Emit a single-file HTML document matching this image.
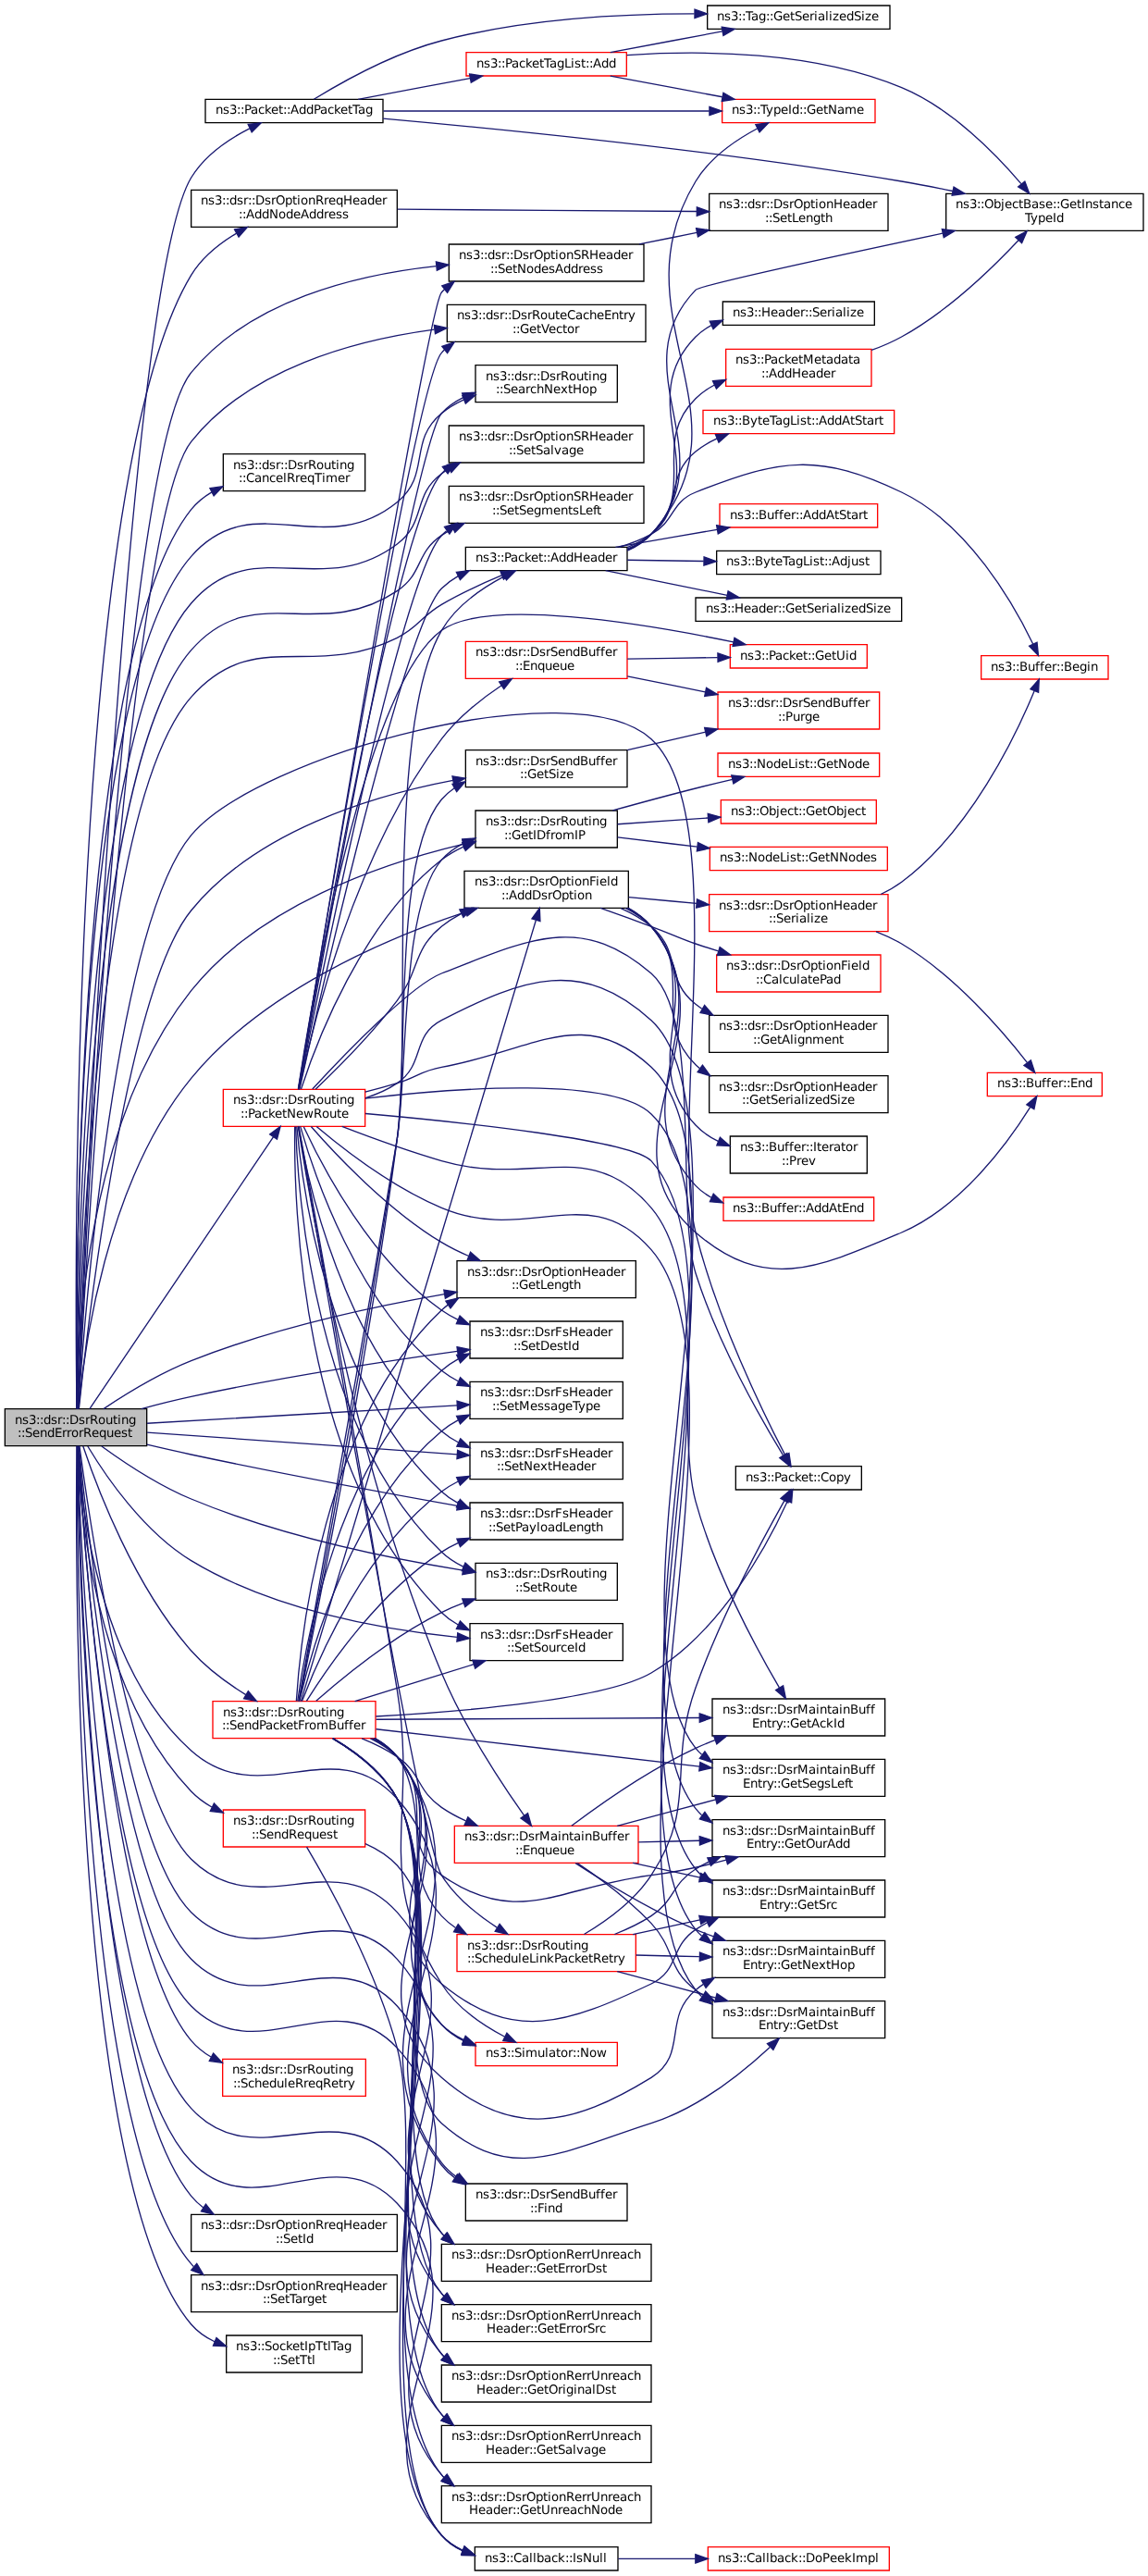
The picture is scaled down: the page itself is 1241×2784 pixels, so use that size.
<!DOCTYPE html>
<html lang="en">
<head>
<meta charset="utf-8">
<title>ns3::dsr::DsrRouting::SendErrorRequest call graph</title>
<style>
html,body{margin:0;padding:0;background:#fff;}
body{width:1241px;height:2784px;overflow:hidden;}
#graph{width:1241px;height:2784px;overflow:hidden;}
svg{display:block;will-change:transform;}
svg text{font-family:"DejaVu Sans","Liberation Sans",sans-serif;font-size:10px;fill:#000;}
svg text{text-rendering:geometricPrecision;}
</style>
</head>
<body>
<div id="graph">
<svg width="1241.3333" height="2784" viewBox="0 0 931 2088">
<g id="graph0" class="graph" transform="scale(1 1) rotate(0) translate(4 2084)">
<polygon fill="white" stroke="none" points="-4,4 -4,-2084 927,-2084 927,4 -4,4"/>
<g id="node1" class="node">
<polygon fill="#bfbfbf" stroke="black" points="0,-912 0,-942 115,-942 115,-912 0,-912"/>
<text x="8 14 19.25 25.25 28.25 31.25 37.25 42.5 46.25 49.25 52.25 59.75 65 68.75 75.5 81.5 87.5 91.25 94.25 100.25" y="-930">ns3::dsr::DsrRouting</text>
<text x="10.25 13.25 16.25 22.25 28.25 34.25 40.25 46.25 50 53.75 59.75 63.5 70.25 76.25 82.25 88.25 94.25 99.5" y="-919">::SendErrorRequest</text>
</g>
<g id="node2" class="node">
<polygon fill="white" stroke="black" points="372.5,-1348 372.5,-1378 505.5,-1378 505.5,-1348 372.5,-1348"/>
<text x="380.75 386.75 392 398 401 404 410 415.25 419 422 425 432.5 437.75 441.5 449 455 458.75 461.75 467.75 473.75 479 482 488 491" y="-1366">ns3::dsr::DsrOptionField</text>
<text x="402.5 405.5 408.5 415.25 421.25 427.25 434.75 440 443.75 451.25 457.25 461 464 470" y="-1355">::AddDsrOption</text>
</g>
<g id="edge1" class="edge">
<path fill="none" stroke="midnightblue" d="M59.62,-942.02C63.74,-987.46 81.62,-1125.51 151,-1210 208.94,-1280.56 308.19,-1323.03 373.45,-1344.74"/>
<polygon fill="midnightblue" stroke="midnightblue" points="372.63,-1348.15 383.22,-1347.92 374.79,-1341.49 372.63,-1348.15"/>
</g>
<g id="node11" class="node">
<polygon fill="white" stroke="black" points="373.5,-1621.5 373.5,-1640.5 504.5,-1640.5 504.5,-1621.5 373.5,-1621.5"/>
<text x="381.5 387.5 392.75 398.75 401.75 404.75 410 416 421.25 426.5 432.5 436.25 439.25 442.25 449 455 461 468.5 474.5 480.5 486.5 492.5" y="-1628.5">ns3::Packet::AddHeader</text>
</g>
<g id="edge11" class="edge">
<path fill="none" stroke="midnightblue" d="M58.73,-942.11C60.33,-1025.57 72.11,-1429.59 151,-1519 202.09,-1576.91 248.86,-1532.6 318,-1567 335.91,-1575.91 336.74,-1583.9 354,-1594 369.35,-1602.98 387.27,-1611.15 402.61,-1617.53"/>
<polygon fill="midnightblue" stroke="midnightblue" points="401.68,-1620.93 412.26,-1621.44 404.31,-1614.44 401.68,-1620.93"/>
</g>
<g id="node20" class="node">
<polygon fill="white" stroke="black" points="151,-1900 151,-1930 318,-1930 318,-1900 151,-1900"/>
<text x="158.75 164.75 170 176 179 182 188 193.25 197 200 203 210.5 215.75 219.5 227 233 236.75 239.75 245.75 251.75 258.5 262.25 268.25 274.25 281.75 287.75 293.75 299.75 305.75" y="-1918">ns3::dsr::DsrOptionRreqHeader</text>
<text x="189.5 192.5 195.5 202.25 208.25 214.25 221.75 227.75 233.75 239.75 246.5 252.5 258.5 262.25 268.25 273.5" y="-1907">::AddNodeAddress</text>
</g>
<g id="edge22" class="edge">
<path fill="none" stroke="midnightblue" d="M58.25,-942.2C56.75,-1049.85 51.96,-1697.62 151,-1861 159.67,-1875.3 173.74,-1886.56 187.83,-1895"/>
<polygon fill="midnightblue" stroke="midnightblue" points="186.12,-1898.06 196.55,-1899.9 189.55,-1891.95 186.12,-1898.06"/>
</g>
<g id="node22" class="node">
<polygon fill="white" stroke="black" points="162.5,-1984.5 162.5,-2003.5 306.5,-2003.5 306.5,-1984.5 162.5,-1984.5"/>
<text x="170.75 176.75 182 188 191 194 199.25 205.25 210.5 215.75 221.75 225.5 228.5 231.5 238.25 244.25 250.25 255.5 261.5 266.75 272 278 281.75 286.25 292.25" y="-1991.5">ns3::Packet::AddPacketTag</text>
</g>
<g id="edge24" class="edge">
<path fill="none" stroke="midnightblue" d="M59.09,-942.18C63.86,-1061.81 97.21,-1850.5 151,-1940 161.79,-1957.95 181.11,-1971.08 198.34,-1979.89"/>
<polygon fill="midnightblue" stroke="midnightblue" points="197.1,-1983.18 207.63,-1984.35 200.13,-1976.87 197.1,-1983.18"/>
</g>
<g id="node25" class="node">
<polygon fill="white" stroke="black" points="177,-1686 177,-1716 292,-1716 292,-1686 177,-1686"/>
<text x="185 191 196.25 202.25 205.25 208.25 214.25 219.5 223.25 226.25 229.25 236.75 242 245.75 252.5 258.5 264.5 268.25 271.25 277.25" y="-1704">ns3::dsr::DsrRouting</text>
<text x="189.5 192.5 195.5 202.25 208.25 214.25 219.5 225.5 228.5 235.25 239 245 251 257 260 269.75 275.75" y="-1693">::CancelRreqTimer</text>
</g>
<g id="edge32" class="edge">
<path fill="none" stroke="midnightblue" d="M58.31,-942.28C57.39,-1037.82 56.9,-1552.92 151,-1671 155.57,-1676.74 161.34,-1681.38 167.69,-1685.13"/>
<polygon fill="midnightblue" stroke="midnightblue" points="166.16,-1688.28 176.66,-1689.72 169.35,-1682.05 166.16,-1688.28"/>
</g>
<g id="node26" class="node">
<polygon fill="white" stroke="black" points="592.5,-876.5 592.5,-895.5 694.5,-895.5 694.5,-876.5 592.5,-876.5"/>
<text x="600.5 606.5 611.75 617.75 620.75 623.75 629 635 640.25 645.5 651.5 655.25 658.25 661.25 668 674 680" y="-883.5">ns3::Packet::Copy</text>
</g>
<g id="edge33" class="edge">
<path fill="none" stroke="midnightblue" d="M59.48,-942.2C64.48,-1015.68 89.43,-1333.48 151,-1407 205.37,-1471.92 461.49,-1542.13 524,-1485 589.88,-1424.79 538.67,-1171.66 560,-1085 577.09,-1015.59 614.65,-938.9 632.58,-904.49"/>
<polygon fill="midnightblue" stroke="midnightblue" points="635.71,-906.06 637.28,-895.58 629.52,-902.79 635.71,-906.06"/>
</g>
<g id="node27" class="node">
<polygon fill="white" stroke="black" points="373.5,-284 373.5,-314 504.5,-314 504.5,-284 373.5,-284"/>
<text x="381.5 387.5 392.75 398.75 401.75 404.75 410.75 416 419.75 422.75 425.75 433.25 438.5 442.25 448.25 454.25 460.25 466.25 473 479 482.75 486.5 492.5" y="-302">ns3::dsr::DsrSendBuffer</text>
<text x="425.75 428.75 431.75 437 440 446" y="-291">::Find</text>
</g>
<g id="edge34" class="edge">
<path fill="none" stroke="midnightblue" d="M59.04,-911.85C61.51,-866.86 75.18,-732.91 151,-665 207.78,-614.15 267.09,-682.73 318,-626 406.22,-527.7 272.59,-435.01 354,-331 357.49,-326.55 361.67,-322.71 366.28,-319.41"/>
<polygon fill="midnightblue" stroke="midnightblue" points="368.33,-322.26 374.99,-314.03 364.65,-316.31 368.33,-322.26"/>
</g>
<g id="node28" class="node">
<polygon fill="white" stroke="black" points="354,-235 354,-265 524,-265 524,-235 354,-235"/>
<text x="362 368 373.25 379.25 382.25 385.25 391.25 396.5 400.25 403.25 406.25 413.75 419 422.75 430.25 436.25 440 443 449 455 461.75 467.75 471.5 475.25 482.75 488.75 492.5 498.5 504.5 509.75" y="-253">ns3::dsr::DsrOptionRerrUnreach</text>
<text x="389.75 397.25 403.25 409.25 415.25 421.25 425 428 431 438.5 444.5 448.25 454.25 458 461.75 467.75 471.5 479 484.25" y="-242">Header::GetErrorDst</text>
</g>
<g id="edge35" class="edge">
<path fill="none" stroke="midnightblue" d="M60.45,-911.91C68.59,-851.22 101.74,-625.95 151,-577 205.37,-522.98 266.99,-591.21 318,-534 395.64,-446.93 277.51,-362.08 354,-274 354.75,-273.14 355.52,-272.31 356.32,-271.51"/>
<polygon fill="midnightblue" stroke="midnightblue" points="358.67,-274.11 364.17,-265.06 354.22,-268.71 358.67,-274.11"/>
</g>
<g id="node29" class="node">
<polygon fill="white" stroke="black" points="354,-186 354,-216 524,-216 524,-186 354,-186"/>
<text x="362 368 373.25 379.25 382.25 385.25 391.25 396.5 400.25 403.25 406.25 413.75 419 422.75 430.25 436.25 440 443 449 455 461.75 467.75 471.5 475.25 482.75 488.75 492.5 498.5 504.5 509.75" y="-204">ns3::dsr::DsrOptionRerrUnreach</text>
<text x="390.5 398 404 410 416 422 425.75 428.75 431.75 439.25 445.25 449 455 458.75 462.5 468.5 472.25 478.25 482" y="-193">Header::GetErrorSrc</text>
</g>
<g id="edge36" class="edge">
<path fill="none" stroke="midnightblue" d="M59.95,-911.84C66.51,-846.4 95.53,-589.06 151,-534 205.02,-480.38 266.7,-552.23 318,-496 399.89,-406.24 274.59,-316.96 354,-225 354.74,-224.14 355.52,-223.31 356.31,-222.51"/>
<polygon fill="midnightblue" stroke="midnightblue" points="358.66,-225.1 364.14,-216.04 354.2,-219.71 358.66,-225.1"/>
</g>
<g id="node30" class="node">
<polygon fill="white" stroke="black" points="381.5,-1397 381.5,-1427 496.5,-1427 496.5,-1397 381.5,-1397"/>
<text x="389.75 395.75 401 407 410 413 419 424.25 428 431 434 441.5 446.75 450.5 457.25 463.25 469.25 473 476 482" y="-1415">ns3::dsr::DsrRouting</text>
<text x="404.75 407.75 410.75 418.25 424.25 428 431 438.5 442.25 446 452 461.75 464.75" y="-1404">::GetIDfromIP</text>
</g>
<g id="edge37" class="edge">
<path fill="none" stroke="midnightblue" d="M58.31,-942.37C58.44,-995.44 65.52,-1173.67 151,-1281 205.93,-1349.97 305.27,-1384 371.44,-1399.76"/>
<polygon fill="midnightblue" stroke="midnightblue" points="370.83,-1403.21 381.36,-1402.05 372.4,-1396.39 370.83,-1403.21"/>
</g>
<g id="node34" class="node">
<polygon fill="white" stroke="black" points="366.5,-1032 366.5,-1062 511.5,-1062 511.5,-1032 366.5,-1032"/>
<text x="374.75 380.75 386 392 395 398 404 409.25 413 416 419 426.5 431.75 435.5 443 449 452.75 455.75 461.75 467.75 475.25 481.25 487.25 493.25 499.25" y="-1050">ns3::dsr::DsrOptionHeader</text>
<text x="410.75 413.75 416.75 424.25 430.25 434 439.25 445.25 451.25 457.25 461" y="-1039">::GetLength</text>
</g>
<g id="edge41" class="edge">
<path fill="none" stroke="midnightblue" d="M79.97,-942.07C98.13,-954.18 125.24,-970.79 151,-981 217.84,-1007.48 297.84,-1024.78 356.38,-1035"/>
<polygon fill="midnightblue" stroke="midnightblue" points="355.87,-1038.47 366.32,-1036.7 357.05,-1031.57 355.87,-1038.47"/>
</g>
<g id="node35" class="node">
<polygon fill="white" stroke="black" points="354,-137 354,-167 524,-167 524,-137 354,-137"/>
<text x="362 368 373.25 379.25 382.25 385.25 391.25 396.5 400.25 403.25 406.25 413.75 419 422.75 430.25 436.25 440 443 449 455 461.75 467.75 471.5 475.25 482.75 488.75 492.5 498.5 504.5 509.75" y="-155">ns3::dsr::DsrOptionRerrUnreach</text>
<text x="382.25 389.75 395.75 401.75 407.75 413.75 417.5 420.5 423.5 431 437 440.75 448.25 452 455 461 464 470 476 479 486.5 491.75" y="-144">Header::GetOriginalDst</text>
</g>
<g id="edge42" class="edge">
<path fill="none" stroke="midnightblue" d="M59.61,-911.81C65.01,-842.5 90.63,-557.12 151,-496 204.49,-441.84 266.84,-514.36 318,-458 402.92,-364.44 271.67,-271.84 354,-176 354.74,-175.14 355.51,-174.3 356.31,-173.5"/>
<polygon fill="midnightblue" stroke="midnightblue" points="358.66,-176.1 364.12,-167.02 354.19,-170.71 358.66,-176.1"/>
</g>
<g id="node36" class="node">
<polygon fill="white" stroke="black" points="354,-88 354,-118 524,-118 524,-88 354,-88"/>
<text x="362 368 373.25 379.25 382.25 385.25 391.25 396.5 400.25 403.25 406.25 413.75 419 422.75 430.25 436.25 440 443 449 455 461.75 467.75 471.5 475.25 482.75 488.75 492.5 498.5 504.5 509.75" y="-106">ns3::dsr::DsrOptionRerrUnreach</text>
<text x="389.75 397.25 403.25 409.25 415.25 421.25 425 428 431 438.5 444.5 448.25 454.25 460.25 463.25 469.25 475.25 481.25" y="-95">Header::GetSalvage</text>
</g>
<g id="edge43" class="edge">
<path fill="none" stroke="midnightblue" d="M59.29,-911.93C63.41,-839.11 84.89,-524.52 151,-458 204.4,-404.28 266.63,-479.66 318,-424 408.18,-326.28 267.68,-228.13 354,-127 354.62,-126.27 355.27,-125.56 355.93,-124.87"/>
<polygon fill="midnightblue" stroke="midnightblue" points="358.37,-127.39 363.73,-118.25 353.84,-122.06 358.37,-127.39"/>
</g>
<g id="node37" class="node">
<polygon fill="white" stroke="black" points="373.5,-1446 373.5,-1476 504.5,-1476 504.5,-1446 373.5,-1446"/>
<text x="381.5 387.5 392.75 398.75 401.75 404.75 410.75 416 419.75 422.75 425.75 433.25 438.5 442.25 448.25 454.25 460.25 466.25 473 479 482.75 486.5 492.5" y="-1464">ns3::dsr::DsrSendBuffer</text>
<text x="417.5 420.5 423.5 431 437 440.75 446.75 449.75 455" y="-1453">::GetSize</text>
</g>
<g id="edge44" class="edge">
<path fill="none" stroke="midnightblue" d="M60.05,-942.43C67.12,-1010.27 98.31,-1281.55 151,-1346 203.52,-1410.23 297.24,-1438.82 363.27,-1451.4"/>
<polygon fill="midnightblue" stroke="midnightblue" points="362.74,-1454.86 373.21,-1453.21 364,-1447.97 362.74,-1454.86"/>
</g>
<g id="node39" class="node">
<polygon fill="white" stroke="black" points="354,-39 354,-69 524,-69 524,-39 354,-39"/>
<text x="362 368 373.25 379.25 382.25 385.25 391.25 396.5 400.25 403.25 406.25 413.75 419 422.75 430.25 436.25 440 443 449 455 461.75 467.75 471.5 475.25 482.75 488.75 492.5 498.5 504.5 509.75" y="-57">ns3::dsr::DsrOptionRerrUnreach</text>
<text x="376.25 383.75 389.75 395.75 401.75 407.75 411.5 414.5 417.5 425 431 434.75 442.25 448.25 452 458 464 469.25 475.25 482.75 488.75 494.75" y="-46">Header::GetUnreachNode</text>
</g>
<g id="edge46" class="edge">
<path fill="none" stroke="midnightblue" d="M58.88,-911.83C61.21,-831.53 76.03,-456.71 151,-375 202.82,-318.53 266.9,-389.12 318,-332 394.02,-247.02 279.11,-163.97 354,-78 354.75,-77.14 355.52,-76.31 356.32,-75.51"/>
<polygon fill="midnightblue" stroke="midnightblue" points="358.67,-78.12 364.18,-69.07 354.23,-72.71 358.67,-78.12"/>
</g>
<g id="node40" class="node">
<polygon fill="white" stroke="black" points="358.5,-1807 358.5,-1837 519.5,-1837 519.5,-1807 358.5,-1807"/>
<text x="366.5 372.5 377.75 383.75 386.75 389.75 395.75 401 404.75 407.75 410.75 418.25 423.5 427.25 434 440 446 449.75 455.75 462.5 468.5 473.75 479.75 485.75 491.75 497.75 501.5 505.25" y="-1825">ns3::dsr::DsrRouteCacheEntry</text>
<text x="411.5 414.5 417.5 425 431 434.75 440.75 446.75 452 455.75 461.75" y="-1814">::GetVector</text>
</g>
<g id="edge47" class="edge">
<path fill="none" stroke="midnightblue" d="M59.3,-942.27C64.97,-1047.44 100.1,-1662.1 151,-1726 198.07,-1785.1 282.83,-1808.1 348.07,-1816.9"/>
<polygon fill="midnightblue" stroke="midnightblue" points="348.01,-1820.42 358.36,-1818.19 348.88,-1813.47 348.01,-1820.42"/>
</g>
<g id="node41" class="node">
<polygon fill="white" stroke="black" points="381,-0.5 381,-19.5 497,-19.5 497,-0.5 381,-0.5"/>
<text x="389 395 400.25 406.25 409.25 412.25 419 425 428 431 437 443 448.25 454.25 457.25 460.25 463.25 468.5 476 482 485" y="-7.5">ns3::Callback::IsNull</text>
</g>
<g id="edge48" class="edge">
<path fill="none" stroke="midnightblue" d="M58.61,-911.98C59.51,-828.16 68.18,-418.78 151,-332 203.3,-277.21 266.29,-353.34 318,-298 400.35,-209.87 272.6,-118.02 354,-29 358.75,-23.81 364.58,-19.89 370.95,-16.94"/>
<polygon fill="midnightblue" stroke="midnightblue" points="372.48,-20.1 380.59,-13.28 370,-13.55 372.48,-20.1"/>
</g>
<g id="node43" class="node">
<polygon fill="white" stroke="red" points="177,-1171 177,-1201 292,-1201 292,-1171 177,-1171"/>
<text x="185 191 196.25 202.25 205.25 208.25 214.25 219.5 223.25 226.25 229.25 236.75 242 245.75 252.5 258.5 264.5 268.25 271.25 277.25" y="-1189">ns3::dsr::DsrRouting</text>
<text x="191 194 197 202.25 208.25 213.5 218.75 224.75 228.5 236 242 250.25 257 263 269 272.75" y="-1178">::PacketNewRoute</text>
</g>
<g id="edge50" class="edge">
<path fill="none" stroke="midnightblue" d="M68.67,-942.04C97.9,-985.32 182.38,-1110.34 217.69,-1162.6"/>
<polygon fill="midnightblue" stroke="midnightblue" points="214.81,-1164.59 223.31,-1170.91 220.61,-1160.67 214.81,-1164.59"/>
</g>
<g id="node55" class="node">
<polygon fill="white" stroke="black" points="381.5,-1758 381.5,-1788 496.5,-1788 496.5,-1758 381.5,-1758"/>
<text x="389.75 395.75 401 407 410 413 419 424.25 428 431 434 441.5 446.75 450.5 457.25 463.25 469.25 473 476 482" y="-1776">ns3::dsr::DsrRouting</text>
<text x="398 401 404 410 416 422 425.75 431 437 444.5 450.5 456.5 460.25 467.75 473.75" y="-1765">::SearchNextHop</text>
</g>
<g id="edge93" class="edge">
<path fill="none" stroke="midnightblue" d="M58.28,-942.21C57.26,-1035.11 56.47,-1525.59 151,-1633 201.71,-1690.62 258.43,-1628.59 318,-1677 345.77,-1699.56 326.47,-1726.15 354,-1749 359.33,-1753.43 365.44,-1757.04 371.87,-1759.98"/>
<polygon fill="midnightblue" stroke="midnightblue" points="370.89,-1763.36 381.47,-1763.84 373.5,-1756.86 370.89,-1763.36"/>
</g>
<g id="node56" class="node">
<polygon fill="white" stroke="black" points="377,-983 377,-1013 501,-1013 501,-983 377,-983"/>
<text x="385.25 391.25 396.5 402.5 405.5 408.5 414.5 419.75 423.5 426.5 429.5 437 442.25 446 452 457.25 464.75 470.75 476.75 482.75 488.75" y="-1001">ns3::dsr::DsrFsHeader</text>
<text x="412.25 415.25 418.25 424.25 430.25 434 441.5 447.5 452.75 456.5 459.5" y="-990">::SetDestId</text>
</g>
<g id="edge126" class="edge">
<path fill="none" stroke="midnightblue" d="M110.61,-942.11C123.73,-945.63 137.83,-949.17 151,-952 223.96,-967.66 308.39,-980.58 366.7,-988.69"/>
<polygon fill="midnightblue" stroke="midnightblue" points="366.52,-992.2 376.91,-990.1 367.48,-985.27 366.52,-992.2"/>
</g>
<g id="node57" class="node">
<polygon fill="white" stroke="black" points="377,-934 377,-964 501,-964 501,-934 377,-934"/>
<text x="385.25 391.25 396.5 402.5 405.5 408.5 414.5 419.75 423.5 426.5 429.5 437 442.25 446 452 457.25 464.75 470.75 476.75 482.75 488.75" y="-952">ns3::dsr::DsrFsHeader</text>
<text x="395 398 401 407 413 416.75 425.75 431.75 437 442.25 448.25 454.25 460.25 464.75 470.75 476.75" y="-941">::SetMessageType</text>
</g>
<g id="edge128" class="edge">
<path fill="none" stroke="midnightblue" d="M115.31,-930.29C182.36,-934.18 293.91,-940.65 366.7,-944.87"/>
<polygon fill="midnightblue" stroke="midnightblue" points="366.52,-948.36 376.7,-945.45 366.92,-941.37 366.52,-948.36"/>
</g>
<g id="node58" class="node">
<polygon fill="white" stroke="black" points="377,-885 377,-915 501,-915 501,-885 377,-885"/>
<text x="385.25 391.25 396.5 402.5 405.5 408.5 414.5 419.75 423.5 426.5 429.5 437 442.25 446 452 457.25 464.75 470.75 476.75 482.75 488.75" y="-903">ns3::dsr::DsrFsHeader</text>
<text x="398.75 401.75 404.75 410.75 416.75 420.5 428 434 440 443.75 451.25 457.25 463.25 469.25 475.25" y="-892">::SetNextHeader</text>
</g>
<g id="edge129" class="edge">
<path fill="none" stroke="midnightblue" d="M115.31,-922.96C182.36,-918.19 293.91,-910.25 366.7,-905.07"/>
<polygon fill="midnightblue" stroke="midnightblue" points="366.98,-908.56 376.7,-904.36 366.48,-901.58 366.98,-908.56"/>
</g>
<g id="node59" class="node">
<polygon fill="white" stroke="black" points="360,-1856 360,-1886 518,-1886 518,-1856 360,-1856"/>
<text x="368 374 379.25 385.25 388.25 391.25 397.25 402.5 406.25 409.25 412.25 419.75 425 428.75 436.25 442.25 446 449 455 461 467 473.75 481.25 487.25 493.25 499.25 505.25" y="-1874">ns3::dsr::DsrOptionSRHeader</text>
<text x="393.5 396.5 399.5 405.5 411.5 415.25 422.75 428.75 434.75 440.75 446 452.75 458.75 464.75 468.5 474.5 479.75" y="-1863">::SetNodesAddress</text>
</g>
<g id="edge130" class="edge">
<path fill="none" stroke="midnightblue" d="M59.16,-942.29C64.02,-1051.78 95.61,-1714.11 151,-1782 198.74,-1840.51 284.25,-1861.31 349.56,-1868.33"/>
<polygon fill="midnightblue" stroke="midnightblue" points="349.56,-1871.85 359.86,-1869.35 350.25,-1864.89 349.56,-1871.85"/>
</g>
<g id="node60" class="node">
<polygon fill="white" stroke="black" points="377,-836 377,-866 501,-866 501,-836 377,-836"/>
<text x="385.25 391.25 396.5 402.5 405.5 408.5 414.5 419.75 423.5 426.5 429.5 437 442.25 446 452 457.25 464.75 470.75 476.75 482.75 488.75" y="-854">ns3::dsr::DsrFsHeader</text>
<text x="392 395 398 404 410 413.75 419 425 431 434 440 446 452 457.25 463.25 469.25 475.25 479" y="-843">::SetPayloadLength</text>
</g>
<g id="edge131" class="edge">
<path fill="none" stroke="midnightblue" d="M115.15,-913.08C126.97,-910.3 139.38,-907.47 151,-905 224.21,-889.42 308.43,-873.85 366.62,-863.46"/>
<polygon fill="midnightblue" stroke="midnightblue" points="367.57,-866.84 376.81,-861.64 366.35,-859.95 367.57,-866.84"/>
</g>
<g id="node61" class="node">
<polygon fill="white" stroke="black" points="381.5,-787 381.5,-817 496.5,-817 496.5,-787 381.5,-787"/>
<text x="389.75 395.75 401 407 410 413 419 424.25 428 431 434 441.5 446.75 450.5 457.25 463.25 469.25 473 476 482" y="-805">ns3::dsr::DsrRouting</text>
<text x="413.75 416.75 419.75 425.75 431.75 435.5 442.25 448.25 454.25 458" y="-794">::SetRoute</text>
</g>
<g id="edge132" class="edge">
<path fill="none" stroke="midnightblue" d="M78.37,-911.8C96.42,-898.69 124.23,-880.15 151,-869 223.33,-838.87 311.83,-820.81 371.27,-811.16"/>
<polygon fill="midnightblue" stroke="midnightblue" points="371.95,-814.6 381.28,-809.57 370.86,-807.69 371.95,-814.6"/>
</g>
<g id="node62" class="node">
<polygon fill="white" stroke="black" points="360,-1709 360,-1739 518,-1739 518,-1709 360,-1709"/>
<text x="368 374 379.25 385.25 388.25 391.25 397.25 402.5 406.25 409.25 412.25 419.75 425 428.75 436.25 442.25 446 449 455 461 467 473.75 481.25 487.25 493.25 499.25 505.25" y="-1727">ns3::dsr::DsrOptionSRHeader</text>
<text x="408.5 411.5 414.5 420.5 426.5 430.25 436.25 442.25 445.25 451.25 457.25 463.25" y="-1716">::SetSalvage</text>
</g>
<g id="edge133" class="edge">
<path fill="none" stroke="midnightblue" d="M58.44,-942.24C58.39,-1032.14 62.52,-1492.94 151,-1595 201.59,-1653.35 256.23,-1596.65 318,-1643 341.97,-1660.98 330.02,-1682.04 354,-1700 355.87,-1701.4 357.83,-1702.73 359.84,-1703.97"/>
<polygon fill="midnightblue" stroke="midnightblue" points="358.58,-1707.26 369.04,-1708.95 361.91,-1701.11 358.58,-1707.26"/>
</g>
<g id="node63" class="node">
<polygon fill="white" stroke="black" points="360,-1660 360,-1690 518,-1690 518,-1660 360,-1660"/>
<text x="368 374 379.25 385.25 388.25 391.25 397.25 402.5 406.25 409.25 412.25 419.75 425 428.75 436.25 442.25 446 449 455 461 467 473.75 481.25 487.25 493.25 499.25 505.25" y="-1678">ns3::dsr::DsrOptionSRHeader</text>
<text x="395 398 401 407 413 416.75 422.75 428.75 434.75 444.5 450.5 456.5 460.25 465.5 470.75 476.75 479.75" y="-1667">::SetSegmentsLeft</text>
</g>
<g id="edge134" class="edge">
<path fill="none" stroke="midnightblue" d="M58.58,-942.21C59.34,-1029.03 67.33,-1461.28 151,-1557 201.83,-1615.14 253.74,-1562.16 318,-1605 339.31,-1619.21 332.76,-1635.69 354,-1650 356.93,-1651.97 360.02,-1653.79 363.21,-1655.47"/>
<polygon fill="midnightblue" stroke="midnightblue" points="361.91,-1658.73 372.45,-1659.84 364.9,-1652.4 361.91,-1658.73"/>
</g>
<g id="node64" class="node">
<polygon fill="white" stroke="black" points="377,-738 377,-768 501,-768 501,-738 377,-738"/>
<text x="385.25 391.25 396.5 402.5 405.5 408.5 414.5 419.75 423.5 426.5 429.5 437 442.25 446 452 457.25 464.75 470.75 476.75 482.75 488.75" y="-756">ns3::dsr::DsrFsHeader</text>
<text x="407 410 413 419 425 428.75 434.75 440.75 446.75 450.5 455.75 461.75 464.75" y="-745">::SetSourceId</text>
</g>
<g id="edge135" class="edge">
<path fill="none" stroke="midnightblue" d="M67.11,-911.76C81.36,-888.02 112.14,-842.52 151,-819 217.15,-778.96 305.32,-763.19 366.4,-757"/>
<polygon fill="midnightblue" stroke="midnightblue" points="367.09,-760.44 376.72,-756.01 366.43,-753.48 367.09,-760.44"/>
</g>
<g id="node65" class="node">
<polygon fill="white" stroke="red" points="176.5,-385 176.5,-415 292.5,-415 292.5,-385 176.5,-385"/>
<text x="184.25 190.25 195.5 201.5 204.5 207.5 213.5 218.75 222.5 225.5 228.5 236 241.25 245 251.75 257.75 263.75 267.5 270.5 276.5" y="-403">ns3::dsr::DsrRouting</text>
<text x="185 188 191 197 202.25 208.25 214.25 220.25 226.25 229.25 235.25 242 245.75 251.75 257.75 264.5 270.5 274.25 278" y="-392">::ScheduleRreqRetry</text>
</g>
<g id="edge92" class="edge">
<path fill="none" stroke="midnightblue" d="M59.34,-911.74C63.78,-836.53 86.74,-505.83 151,-430 155.5,-424.69 161.02,-420.32 167.06,-416.72"/>
<polygon fill="midnightblue" stroke="midnightblue" points="168.94,-419.69 176.21,-411.98 165.72,-413.47 168.94,-419.69"/>
</g>
<g id="node66" class="node">
<polygon fill="white" stroke="red" points="168.5,-675 168.5,-705 300.5,-705 300.5,-675 168.5,-675"/>
<text x="176.75 182.75 188 194 197 200 206 211.25 215 218 221 228.5 233.75 237.5 244.25 250.25 256.25 260 263 269" y="-693">ns3::dsr::DsrRouting</text>
<text x="176 179 182 188 194 200 206 211.25 217.25 222.5 227.75 233.75 237.5 242.75 246.5 252.5 262.25 269 275 278.75 282.5 288.5" y="-682">::SendPacketFromBuffer</text>
</g>
<g id="edge94" class="edge">
<path fill="none" stroke="midnightblue" d="M63.3,-911.9C74.4,-878.81 104.51,-798.64 151,-746 163.45,-731.9 180.2,-719.68 195.35,-710.28"/>
<polygon fill="midnightblue" stroke="midnightblue" points="197.26,-713.22 204.04,-705.09 193.66,-707.21 197.26,-713.22"/>
</g>
<g id="node67" class="node">
<polygon fill="white" stroke="red" points="177,-587 177,-617 292,-617 292,-587 177,-587"/>
<text x="185 191 196.25 202.25 205.25 208.25 214.25 219.5 223.25 226.25 229.25 236.75 242 245.75 252.5 258.5 264.5 268.25 271.25 277.25" y="-605">ns3::dsr::DsrRouting</text>
<text x="200 203 206 212 218 224 230 236.75 242.75 248.75 254.75 260.75 266" y="-594">::SendRequest</text>
</g>
<g id="edge123" class="edge">
<path fill="none" stroke="midnightblue" d="M58.77,-911.82C60.42,-863.98 72,-714.64 151,-632 155.81,-626.97 161.53,-622.78 167.69,-619.28"/>
<polygon fill="midnightblue" stroke="midnightblue" points="169.57,-622.25 176.96,-614.65 166.45,-615.99 169.57,-622.25"/>
</g>
<g id="node68" class="node">
<polygon fill="white" stroke="black" points="151,-259 151,-289 318,-289 318,-259 151,-259"/>
<text x="158.75 164.75 170 176 179 182 188 193.25 197 200 203 210.5 215.75 219.5 227 233 236.75 239.75 245.75 251.75 258.5 262.25 268.25 274.25 281.75 287.75 293.75 299.75 305.75" y="-277">ns3::dsr::DsrOptionRreqHeader</text>
<text x="219.5 222.5 225.5 231.5 237.5 241.25 244.25" y="-266">::SetId</text>
</g>
<g id="edge127" class="edge">
<path fill="none" stroke="midnightblue" d="M58.71,-911.76C60.21,-825.74 71.56,-401.3 151,-304 153.9,-300.45 157.25,-297.32 160.92,-294.56"/>
<polygon fill="midnightblue" stroke="midnightblue" points="162.88,-297.46 169.38,-289.09 159.08,-291.58 162.88,-297.46"/>
</g>
<g id="node69" class="node">
<polygon fill="white" stroke="black" points="151,-210 151,-240 318,-240 318,-210 151,-210"/>
<text x="158.75 164.75 170 176 179 182 188 193.25 197 200 203 210.5 215.75 219.5 227 233 236.75 239.75 245.75 251.75 258.5 262.25 268.25 274.25 281.75 287.75 293.75 299.75 305.75" y="-228">ns3::dsr::DsrOptionRreqHeader</text>
<text x="209 212 215 221 227 230.75 235.25 241.25 245 251 257" y="-217">::SetTarget</text>
</g>
<g id="edge136" class="edge">
<path fill="none" stroke="midnightblue" d="M58.41,-911.84C58.18,-821.34 61.39,-352.91 151,-249 151.64,-248.26 152.3,-247.54 152.98,-246.84"/>
<polygon fill="midnightblue" stroke="midnightblue" points="155.54,-249.26 160.97,-240.17 151.05,-243.89 155.54,-249.26"/>
</g>
<g id="node70" class="node">
<polygon fill="white" stroke="black" points="179.5,-161 179.5,-191 289.5,-191 289.5,-161 179.5,-161"/>
<text x="187.25 193.25 198.5 204.5 207.5 210.5 216.5 222.5 227.75 233 239 242.75 245.75 251.75 257.75 261.5 264.5 269 275" y="-179">ns3::SocketIpTtlTag</text>
<text x="217.25 220.25 223.25 229.25 235.25 239 245 248.75" y="-168">::SetTtl</text>
</g>
<g id="edge137" class="edge">
<path fill="none" stroke="midnightblue" d="M58.26,-911.99C57.05,-818.12 55.12,-312.2 151,-200 156.18,-193.94 162.79,-189.36 170.01,-185.92"/>
<polygon fill="midnightblue" stroke="midnightblue" points="171.45,-189.11 179.42,-182.13 168.84,-182.62 171.45,-189.11"/>
</g>
<g id="node3" class="node">
<polygon fill="white" stroke="red" points="582.5,-1094.5 582.5,-1113.5 704.5,-1113.5 704.5,-1094.5 582.5,-1094.5"/>
<text x="590 596 601.25 607.25 610.25 613.25 620 626 629.75 633.5 639.5 643.25 646.25 649.25 656 662 668 674.75 678.5 684.5 690.5" y="-1101.5">ns3::Buffer::AddAtEnd</text>
</g>
<g id="edge2" class="edge">
<path fill="none" stroke="midnightblue" d="M505.14,-1347.96C512.28,-1344.06 518.82,-1339.17 524,-1333 584.92,-1260.5 494.96,-1191.83 560,-1123 563.69,-1119.09 568.01,-1115.92 572.7,-1113.34"/>
<polygon fill="midnightblue" stroke="midnightblue" points="574.45,-1116.39 582.12,-1109.09 571.57,-1110.01 574.45,-1116.39"/>
</g>
<g id="node4" class="node">
<polygon fill="white" stroke="red" points="577,-1280 577,-1310 710,-1310 710,-1280 577,-1280"/>
<text x="584.75 590.75 596 602 605 608 614 619.25 623 626 629 636.5 641.75 645.5 653 659 662.75 665.75 671.75 677.75 683 686 692 695" y="-1298">ns3::dsr::DsrOptionField</text>
<text x="608.75 611.75 614.75 621.5 627.5 630.5 635.75 641.75 644.75 650.75 654.5 660.5 665.75 671.75" y="-1287">::CalculatePad</text>
</g>
<g id="edge3" class="edge">
<path fill="none" stroke="midnightblue" d="M482.82,-1347.97C496.05,-1343.25 510.65,-1337.98 524,-1333 540.09,-1327 543.74,-1324.51 560,-1319 565.93,-1316.99 572.14,-1314.99 578.37,-1313.06"/>
<polygon fill="midnightblue" stroke="midnightblue" points="579.6,-1316.34 588.15,-1310.08 577.56,-1309.64 579.6,-1316.34"/>
</g>
<g id="node5" class="node">
<polygon fill="white" stroke="red" points="796.5,-1195.5 796.5,-1214.5 889.5,-1214.5 889.5,-1195.5 796.5,-1195.5"/>
<text x="804.5 810.5 815.75 821.75 824.75 827.75 834.5 840.5 844.25 848 854 857.75 860.75 863.75 869.75 875.75" y="-1202.5">ns3::Buffer::End</text>
</g>
<g id="edge4" class="edge">
<path fill="none" stroke="midnightblue" d="M505.7,-1347.85C512.65,-1343.98 519,-1339.11 524,-1333 594.55,-1246.82 475.78,-1157.88 560,-1085 616.13,-1036.43 658.73,-1055.87 727,-1085 775.67,-1105.77 813.62,-1158.36 831.24,-1186.52"/>
<polygon fill="midnightblue" stroke="midnightblue" points="828.43,-1188.64 836.6,-1195.37 834.41,-1185.01 828.43,-1188.64"/>
</g>
<g id="node6" class="node">
<polygon fill="white" stroke="black" points="571,-1231 571,-1261 716,-1261 716,-1231 571,-1231"/>
<text x="578.75 584.75 590 596 599 602 608 613.25 617 620 623 630.5 635.75 639.5 647 653 656.75 659.75 665.75 671.75 679.25 685.25 691.25 697.25 703.25" y="-1249">ns3::dsr::DsrOptionHeader</text>
<text x="606.5 609.5 612.5 620 626 629.75 636.5 639.5 642.5 648.5 654.5 664.25 670.25 676.25" y="-1238">::GetAlignment</text>
</g>
<g id="edge5" class="edge">
<path fill="none" stroke="midnightblue" d="M499.36,-1347.86C508.2,-1343.94 516.76,-1339.07 524,-1333 548.72,-1312.29 534.67,-1289.96 560,-1270 561.63,-1268.72 563.32,-1267.51 565.06,-1266.36"/>
<polygon fill="midnightblue" stroke="midnightblue" points="567.25,-1269.14 574.19,-1261.14 563.77,-1263.07 567.25,-1269.14"/>
</g>
<g id="node7" class="node">
<polygon fill="white" stroke="black" points="571,-1182 571,-1212 716,-1212 716,-1182 571,-1182"/>
<text x="578.75 584.75 590 596 599 602 608 613.25 617 620 623 630.5 635.75 639.5 647 653 656.75 659.75 665.75 671.75 679.25 685.25 691.25 697.25 703.25" y="-1200">ns3::dsr::DsrOptionHeader</text>
<text x="597.5 600.5 603.5 611 617 620.75 626.75 632.75 636.5 639.5 645.5 648.5 651.5 656.75 662.75 668.75 674.75 677.75 683" y="-1189">::GetSerializedSize</text>
</g>
<g id="edge6" class="edge">
<path fill="none" stroke="midnightblue" d="M503.08,-1347.87C510.82,-1343.99 518.07,-1339.12 524,-1333 560.38,-1295.44 522.52,-1257.45 560,-1221 561.1,-1219.93 562.25,-1218.9 563.44,-1217.92"/>
<polygon fill="midnightblue" stroke="midnightblue" points="565.59,-1220.69 571.79,-1212.09 561.59,-1214.95 565.59,-1220.69"/>
</g>
<g id="node8" class="node">
<polygon fill="white" stroke="black" points="588,-1133 588,-1163 699,-1163 699,-1133 588,-1133"/>
<text x="596 602 607.25 613.25 616.25 619.25 626 632 635.75 639.5 645.5 649.25 652.25 655.25 658.25 662 668 671.75 677.75 681.5 687.5" y="-1151">ns3::Buffer::Iterator</text>
<text x="629.75 632.75 635.75 641.75 645.5 651.5" y="-1140">::Prev</text>
</g>
<g id="edge7" class="edge">
<path fill="none" stroke="midnightblue" d="M504.44,-1347.93C511.78,-1344.04 518.56,-1339.15 524,-1333 572.56,-1278.06 509.81,-1225.46 560,-1172 565.12,-1166.54 571.41,-1162.3 578.2,-1159.01"/>
<polygon fill="midnightblue" stroke="midnightblue" points="579.81,-1162.13 587.72,-1155.09 577.15,-1155.66 579.81,-1162.13"/>
</g>
<g id="node9" class="node">
<polygon fill="white" stroke="red" points="571,-1329 571,-1359 716,-1359 716,-1329 571,-1329"/>
<text x="578.75 584.75 590 596 599 602 608 613.25 617 620 623 630.5 635.75 639.5 647 653 656.75 659.75 665.75 671.75 679.25 685.25 691.25 697.25 703.25" y="-1347">ns3::dsr::DsrOptionHeader</text>
<text x="619.25 622.25 625.25 631.25 637.25 641 644 650 653 656 661.25" y="-1336">::Serialize</text>
</g>
<g id="edge8" class="edge">
<path fill="none" stroke="midnightblue" d="M505.75,-1356.83C523.29,-1355.19 542.45,-1353.39 560.74,-1351.67"/>
<polygon fill="midnightblue" stroke="midnightblue" points="561.16,-1355.15 570.79,-1350.73 560.51,-1348.18 561.16,-1355.15"/>
</g>
<g id="edge10" class="edge">
<path fill="none" stroke="midnightblue" d="M706.3,-1328.93C713.51,-1326.12 720.57,-1322.83 727,-1319 770.23,-1293.23 809.23,-1247.75 828.78,-1222.74"/>
<polygon fill="midnightblue" stroke="midnightblue" points="831.77,-1224.59 835.08,-1214.52 826.22,-1220.33 831.77,-1224.59"/>
</g>
<g id="node10" class="node">
<polygon fill="white" stroke="red" points="791.5,-1533.5 791.5,-1552.5 894.5,-1552.5 894.5,-1533.5 791.5,-1533.5"/>
<text x="799.25 805.25 810.5 816.5 819.5 822.5 829.25 835.25 839 842.75 848.75 852.5 855.5 858.5 865.25 871.25 877.25 880.25" y="-1540.5">ns3::Buffer::Begin</text>
</g>
<g id="edge9" class="edge">
<path fill="none" stroke="midnightblue" d="M710.08,-1359.13C716.09,-1361.89 721.84,-1365.15 727,-1369 782.78,-1410.57 819.61,-1487.75 834.51,-1523.67"/>
<polygon fill="midnightblue" stroke="midnightblue" points="831.45,-1525.44 838.43,-1533.41 837.95,-1522.83 831.45,-1525.44"/>
</g>
<g id="edge17" class="edge">
<path fill="none" stroke="midnightblue" d="M497.96,-1640.57C506.97,-1643.24 515.95,-1646.65 524,-1651 543.36,-1661.46 539.55,-1676.87 560,-1685 628.97,-1712.42 660.01,-1716.95 727,-1685 781,-1659.25 817.85,-1594.37 833.51,-1562"/>
<polygon fill="midnightblue" stroke="midnightblue" points="836.78,-1563.26 837.85,-1552.72 830.44,-1560.29 836.78,-1563.26"/>
</g>
<g id="node12" class="node">
<polygon fill="white" stroke="red" points="566,-1732.5 566,-1751.5 721,-1751.5 721,-1732.5 566,-1732.5"/>
<text x="574.25 580.25 585.5 591.5 594.5 597.5 604.25 610.25 614 620 624.5 630.5 636.5 641.75 644.75 650 653.75 656.75 659.75 666.5 672.5 678.5 685.25 689 695 698.75 704.75 708.5" y="-1739.5">ns3::ByteTagList::AddAtStart</text>
</g>
<g id="edge12" class="edge">
<path fill="none" stroke="midnightblue" d="M504.53,-1640.3C511.51,-1643.02 518.18,-1646.52 524,-1651 550.79,-1671.61 533.72,-1696.73 560,-1718 565.22,-1722.22 571.15,-1725.71 577.39,-1728.57"/>
<polygon fill="midnightblue" stroke="midnightblue" points="576.12,-1731.83 586.7,-1732.35 578.75,-1725.35 576.12,-1731.83"/>
</g>
<g id="node13" class="node">
<polygon fill="white" stroke="red" points="579.5,-1656.5 579.5,-1675.5 707.5,-1675.5 707.5,-1656.5 579.5,-1656.5"/>
<text x="587.75 593.75 599 605 608 611 617.75 623.75 627.5 631.25 637.25 641 644 647 653.75 659.75 665.75 672.5 676.25 682.25 686 692 695.75" y="-1663.5">ns3::Buffer::AddAtStart</text>
</g>
<g id="edge13" class="edge">
<path fill="none" stroke="midnightblue" d="M495.07,-1640.52C520.51,-1644.92 550.91,-1650.17 577.47,-1654.76"/>
<polygon fill="midnightblue" stroke="midnightblue" points="576.99,-1658.23 587.44,-1656.48 578.19,-1651.33 576.99,-1658.23"/>
</g>
<g id="node14" class="node">
<polygon fill="white" stroke="red" points="584.5,-1771 584.5,-1801 702.5,-1801 702.5,-1771 584.5,-1771"/>
<text x="592.25 598.25 603.5 609.5 612.5 615.5 620.75 626.75 632 637.25 643.25 647 656 662 665.75 671.75 677.75 683.75 687.5" y="-1789">ns3::PacketMetadata</text>
<text x="613.25 616.25 619.25 626 632 638 645.5 651.5 657.5 663.5 669.5" y="-1778">::AddHeader</text>
</g>
<g id="edge14" class="edge">
<path fill="none" stroke="midnightblue" d="M504.51,-1638.97C511.66,-1641.91 518.38,-1645.82 524,-1651 561.84,-1685.84 523.23,-1725.03 560,-1761 564.49,-1765.4 569.73,-1769.02 575.35,-1772.01"/>
<polygon fill="midnightblue" stroke="midnightblue" points="573.9,-1775.2 584.45,-1776.21 576.83,-1768.84 573.9,-1775.2"/>
</g>
<g id="node15" class="node">
<polygon fill="white" stroke="black" points="763,-1897 763,-1927 923,-1927 923,-1897 763,-1897"/>
<text x="770.75 776.75 782 788 791 794 801.5 807.5 810.5 816.5 821.75 825.5 832.25 838.25 843.5 849.5 852.5 855.5 863 869 872.75 875.75 881.75 887 890.75 896.75 902.75 908" y="-1915">ns3::ObjectBase::GetInstance</text>
<text x="827 831.5 837.5 843.5 849.5 852.5" y="-1904">TypeId</text>
</g>
<g id="edge18" class="edge">
<path fill="none" stroke="midnightblue" d="M504.8,-1638.08C511.99,-1641.16 518.64,-1645.34 524,-1651 585.52,-1715.93 498.03,-1784.5 560,-1849 563.56,-1852.71 678.41,-1877.54 760.42,-1894.9"/>
<polygon fill="midnightblue" stroke="midnightblue" points="759.74,-1898.33 770.25,-1896.98 761.19,-1891.49 759.74,-1898.33"/>
</g>
<g id="node16" class="node">
<polygon fill="white" stroke="black" points="577,-1618.5 577,-1637.5 710,-1637.5 710,-1618.5 577,-1618.5"/>
<text x="584.75 590.75 596 602 605 608 614.75 620.75 624.5 630.5 635 641 647 652.25 655.25 660.5 664.25 667.25 670.25 677 683 686 692 697.25" y="-1625.5">ns3::ByteTagList::Adjust</text>
</g>
<g id="edge16" class="edge">
<path fill="none" stroke="midnightblue" d="M504.63,-1630.04C524.33,-1629.75 546.18,-1629.43 566.56,-1629.13"/>
<polygon fill="midnightblue" stroke="midnightblue" points="566.8,-1632.62 576.75,-1628.97 566.7,-1625.62 566.8,-1632.62"/>
</g>
<g id="node17" class="node">
<polygon fill="white" stroke="red" points="581.5,-1984.5 581.5,-2003.5 705.5,-2003.5 705.5,-1984.5 581.5,-1984.5"/>
<text x="589.25 595.25 600.5 606.5 609.5 612.5 617 623 629 635 638 644 647 650 657.5 663.5 667.25 674.75 680.75 690.5" y="-1991.5">ns3::TypeId::GetName</text>
</g>
<g id="edge19" class="edge">
<path fill="none" stroke="midnightblue" d="M504.68,-1637.63C511.99,-1640.76 518.69,-1645.09 524,-1651 609.54,-1746.37 493.51,-1827.49 560,-1937 571.62,-1956.13 592.38,-1970.43 610.17,-1979.92"/>
<polygon fill="midnightblue" stroke="midnightblue" points="608.63,-1983.06 619.13,-1984.44 611.78,-1976.81 608.63,-1983.06"/>
</g>
<g id="node18" class="node">
<polygon fill="white" stroke="black" points="560,-1580.5 560,-1599.5 727,-1599.5 727,-1580.5 560,-1580.5"/>
<text x="568.25 574.25 579.5 585.5 588.5 591.5 599 605 611 617 623 626.75 629.75 632.75 640.25 646.25 650 656 662 665.75 668.75 674.75 677.75 680.75 686 692 698 704 707 712.25" y="-1587.5">ns3::Header::GetSerializedSize</text>
</g>
<g id="edge20" class="edge">
<path fill="none" stroke="midnightblue" d="M486.97,-1621.49C516.38,-1615.54 554.47,-1607.82 585.6,-1601.52"/>
<polygon fill="midnightblue" stroke="midnightblue" points="586.33,-1604.94 595.44,-1599.53 584.94,-1598.08 586.33,-1604.94"/>
</g>
<g id="node19" class="node">
<polygon fill="white" stroke="black" points="582,-1820.5 582,-1839.5 705,-1839.5 705,-1820.5 582,-1820.5"/>
<text x="590 596 601.25 607.25 610.25 613.25 620.75 626.75 632.75 638.75 644.75 648.5 651.5 654.5 660.5 666.5 670.25 673.25 679.25 682.25 685.25 690.5" y="-1827.5">ns3::Header::Serialize</text>
</g>
<g id="edge21" class="edge">
<path fill="none" stroke="midnightblue" d="M504.58,-1638.29C511.8,-1641.34 518.52,-1645.45 524,-1651 575.22,-1702.86 508.59,-1759.33 560,-1811 563.73,-1814.75 568.03,-1817.81 572.69,-1820.32"/>
<polygon fill="midnightblue" stroke="midnightblue" points="571.43,-1823.6 581.99,-1824.48 574.29,-1817.21 571.43,-1823.6"/>
</g>
<g id="edge15" class="edge">
<path fill="none" stroke="midnightblue" d="M702.6,-1800.16C711.03,-1803.19 719.41,-1806.78 727,-1811 764.39,-1831.79 800.24,-1866.38 821.7,-1889.19"/>
<polygon fill="midnightblue" stroke="midnightblue" points="819.3,-1891.76 828.66,-1896.73 824.44,-1887.01 819.3,-1891.76"/>
</g>
<g id="node21" class="node">
<polygon fill="white" stroke="black" points="571,-1897 571,-1927 716,-1927 716,-1897 571,-1897"/>
<text x="578.75 584.75 590 596 599 602 608 613.25 617 620 623 630.5 635.75 639.5 647 653 656.75 659.75 665.75 671.75 679.25 685.25 691.25 697.25 703.25" y="-1915">ns3::dsr::DsrOptionHeader</text>
<text x="616.25 619.25 622.25 628.25 634.25 638 643.25 649.25 655.25 661.25 665" y="-1904">::SetLength</text>
</g>
<g id="edge23" class="edge">
<path fill="none" stroke="midnightblue" d="M318.35,-1914.39C389.13,-1913.87 490.38,-1913.12 560.82,-1912.6"/>
<polygon fill="midnightblue" stroke="midnightblue" points="561.01,-1916.1 570.98,-1912.53 560.96,-1909.1 561.01,-1916.1"/>
</g>
<g id="edge29" class="edge">
<path fill="none" stroke="midnightblue" d="M306.62,-1987.97C402.48,-1979.34 578.28,-1961.73 727,-1937 740.46,-1934.76 754.73,-1931.99 768.46,-1929.12"/>
<polygon fill="midnightblue" stroke="midnightblue" points="769.29,-1932.52 778.35,-1927.01 767.84,-1925.67 769.29,-1932.52"/>
</g>
<g id="edge30" class="edge">
<path fill="none" stroke="midnightblue" d="M306.86,-1994C381.11,-1994 496.71,-1994 571,-1994"/>
<polygon fill="midnightblue" stroke="midnightblue" points="571.21,-1997.5 581.21,-1994 571.21,-1990.5 571.21,-1997.5"/>
</g>
<g id="node23" class="node">
<polygon fill="white" stroke="red" points="374,-2022.5 374,-2041.5 504,-2041.5 504,-2022.5 374,-2022.5"/>
<text x="382.25 388.25 393.5 399.5 402.5 405.5 410.75 416.75 422 427.25 433.25 437 441.5 447.5 453.5 458.75 461.75 467 470.75 473.75 476.75 483.5 489.5" y="-2029.5">ns3::PacketTagList::Add</text>
</g>
<g id="edge25" class="edge">
<path fill="none" stroke="midnightblue" d="M286.34,-2003.54C313.9,-2008.71 348.15,-2015.14 377.13,-2020.58"/>
<polygon fill="midnightblue" stroke="midnightblue" points="376.67,-2024.05 387.14,-2022.46 377.96,-2017.17 376.67,-2024.05"/>
</g>
<g id="node24" class="node">
<polygon fill="white" stroke="black" points="569.5,-2060.5 569.5,-2079.5 717.5,-2079.5 717.5,-2060.5 569.5,-2060.5"/>
<text x="577.25 583.25 588.5 594.5 597.5 600.5 605 611 617 620 623 630.5 636.5 640.25 646.25 652.25 656 659 665 668 671 676.25 682.25 688.25 694.25 697.25 702.5" y="-2067.5">ns3::Tag::GetSerializedSize</text>
</g>
<g id="edge31" class="edge">
<path fill="none" stroke="midnightblue" d="M250.49,-2003.55C272.29,-2016.88 314.48,-2040.61 354,-2051 421.44,-2068.73 500.63,-2072.81 558.97,-2072.84"/>
<polygon fill="midnightblue" stroke="midnightblue" points="559.26,-2076.34 569.25,-2072.8 559.23,-2069.34 559.26,-2076.34"/>
</g>
<g id="edge26" class="edge">
<path fill="none" stroke="midnightblue" d="M504.23,-2039.24C564.22,-2043.38 655.05,-2042.86 727,-2013 767.4,-1996.24 803.39,-1959.28 823.94,-1935.02"/>
<polygon fill="midnightblue" stroke="midnightblue" points="826.87,-1936.96 830.54,-1927.03 821.47,-1932.51 826.87,-1936.96"/>
</g>
<g id="edge27" class="edge">
<path fill="none" stroke="midnightblue" d="M490.84,-2022.46C518.4,-2017.29 552.65,-2010.86 581.63,-2005.42"/>
<polygon fill="midnightblue" stroke="midnightblue" points="582.46,-2008.83 591.64,-2003.54 581.17,-2001.95 582.46,-2008.83"/>
</g>
<g id="edge28" class="edge">
<path fill="none" stroke="midnightblue" d="M490.84,-2041.54C518.4,-2046.71 552.65,-2053.14 581.63,-2058.58"/>
<polygon fill="midnightblue" stroke="midnightblue" points="581.17,-2062.05 591.64,-2060.46 582.46,-2055.17 581.17,-2062.05"/>
</g>
<g id="node31" class="node">
<polygon fill="white" stroke="red" points="571.5,-1378.5 571.5,-1397.5 715.5,-1397.5 715.5,-1378.5 571.5,-1378.5"/>
<text x="579.5 585.5 590.75 596.75 599.75 602.75 610.25 616.25 622.25 628.25 633.5 636.5 641.75 645.5 648.5 651.5 659 665 668.75 676.25 683.75 689.75 695.75 701.75" y="-1385.5">ns3::NodeList::GetNNodes</text>
</g>
<g id="edge38" class="edge">
<path fill="none" stroke="midnightblue" d="M496.68,-1405.28C516.68,-1402.91 539.58,-1400.2 561.21,-1397.63"/>
<polygon fill="midnightblue" stroke="midnightblue" points="561.86,-1401.08 571.37,-1396.43 561.03,-1394.13 561.86,-1401.08"/>
</g>
<g id="node32" class="node">
<polygon fill="white" stroke="red" points="578,-1454.5 578,-1473.5 709,-1473.5 709,-1454.5 578,-1454.5"/>
<text x="586.25 592.25 597.5 603.5 606.5 609.5 617 623 629 635 640.25 643.25 648.5 652.25 655.25 658.25 665.75 671.75 675.5 683 689 695" y="-1461.5">ns3::NodeList::GetNode</text>
</g>
<g id="edge39" class="edge">
<path fill="none" stroke="midnightblue" d="M492.74,-1427.02C513.63,-1432.83 537.9,-1439.42 560,-1445 569.62,-1447.43 579.9,-1449.9 589.83,-1452.22"/>
<polygon fill="midnightblue" stroke="midnightblue" points="589.07,-1455.63 599.6,-1454.48 590.65,-1448.81 589.07,-1455.63"/>
</g>
<g id="node33" class="node">
<polygon fill="white" stroke="red" points="580.5,-1416.5 580.5,-1435.5 706.5,-1435.5 706.5,-1416.5 580.5,-1416.5"/>
<text x="588.5 594.5 599.75 605.75 608.75 611.75 619.25 625.25 628.25 634.25 639.5 643.25 646.25 649.25 656.75 662.75 666.5 674 680 683 689 694.25" y="-1423.5">ns3::Object::GetObject</text>
</g>
<g id="edge40" class="edge">
<path fill="none" stroke="midnightblue" d="M496.68,-1415.92C519.41,-1417.49 545.88,-1419.32 569.98,-1420.99"/>
<polygon fill="midnightblue" stroke="midnightblue" points="569.93,-1424.49 580.15,-1421.69 570.41,-1417.51 569.93,-1424.49"/>
</g>
<g id="node38" class="node">
<polygon fill="white" stroke="red" points="578,-1493 578,-1523 709,-1523 709,-1493 578,-1493"/>
<text x="586.25 592.25 597.5 603.5 606.5 609.5 615.5 620.75 624.5 627.5 630.5 638 643.25 647 653 659 665 671 677.75 683.75 687.5 691.25 697.25" y="-1511">ns3::dsr::DsrSendBuffer</text>
<text x="626.75 629.75 632.75 638.75 644.75 648.5 654.5" y="-1500">::Purge</text>
</g>
<g id="edge45" class="edge">
<path fill="none" stroke="midnightblue" d="M504.63,-1476C524.81,-1480.69 547.24,-1485.89 568.04,-1490.72"/>
<polygon fill="midnightblue" stroke="midnightblue" points="567.26,-1494.13 577.79,-1492.98 568.84,-1487.31 567.26,-1494.13"/>
</g>
<g id="node42" class="node">
<polygon fill="white" stroke="red" points="570,-0.5 570,-19.5 717,-19.5 717,-0.5 570,-0.5"/>
<text x="578 584 589.25 595.25 598.25 601.25 608 614 617 620 626 632 637.25 643.25 646.25 649.25 656.75 662.75 668.75 674.75 680.75 686.75 689.75 699.5 705.5" y="-7.5">ns3::Callback::DoPeekImpl</text>
</g>
<g id="edge49" class="edge">
<path fill="none" stroke="midnightblue" d="M497.22,-10C516.61,-10 538.69,-10 559.67,-10"/>
<polygon fill="midnightblue" stroke="midnightblue" points="559.87,-13.5 569.87,-10 559.87,-6.5 559.87,-13.5"/>
</g>
<g id="edge51" class="edge">
<path fill="none" stroke="midnightblue" d="M251.81,-1201.1C269.3,-1217.76 297.35,-1245.82 318,-1273 336.81,-1297.76 329.95,-1313.28 354,-1333 358.87,-1336.99 364.32,-1340.48 370.03,-1343.51"/>
<polygon fill="midnightblue" stroke="midnightblue" points="368.66,-1346.73 379.19,-1347.91 371.69,-1340.42 368.66,-1346.73"/>
</g>
<g id="edge52" class="edge">
<path fill="none" stroke="midnightblue" d="M238.86,-1201.21C254.86,-1273.11 323.79,-1576.67 354,-1607 357.95,-1610.96 362.5,-1614.28 367.4,-1617.06"/>
<polygon fill="midnightblue" stroke="midnightblue" points="366.02,-1620.28 376.55,-1621.5 369.08,-1613.98 366.02,-1620.28"/>
</g>
<g id="edge53" class="edge">
<path fill="none" stroke="midnightblue" d="M249.33,-1201.2C274.84,-1228.81 329,-1285.25 354,-1295 424.39,-1322.45 466.79,-1344.36 524,-1295 565.33,-1259.34 543.65,-1104.08 560,-1052 577.75,-995.45 612.66,-934.35 630.85,-904.51"/>
<polygon fill="midnightblue" stroke="midnightblue" points="634.05,-905.99 636.33,-895.65 628.1,-902.31 634.05,-905.99"/>
</g>
<g id="edge66" class="edge">
<path fill="none" stroke="midnightblue" d="M240.12,-1201.21C252.31,-1238.68 288.9,-1336.09 354,-1387 359.4,-1391.22 365.49,-1394.73 371.87,-1397.64"/>
<polygon fill="midnightblue" stroke="midnightblue" points="370.8,-1400.99 381.38,-1401.51 373.43,-1394.5 370.8,-1400.99"/>
</g>
<g id="edge67" class="edge">
<path fill="none" stroke="midnightblue" d="M248.23,-1170.92C268.47,-1147.78 310.21,-1103.45 354,-1077 360.88,-1072.85 368.42,-1069.14 376.08,-1065.88"/>
<polygon fill="midnightblue" stroke="midnightblue" points="377.46,-1069.09 385.43,-1062.11 374.85,-1062.6 377.46,-1069.09"/>
</g>
<g id="edge73" class="edge">
<path fill="none" stroke="midnightblue" d="M237.97,-1201.11C253.05,-1293.12 332.84,-1774.91 354,-1798 354.77,-1798.84 355.56,-1799.65 356.38,-1800.43"/>
<polygon fill="midnightblue" stroke="midnightblue" points="354.36,-1803.3 364.38,-1806.75 358.71,-1797.81 354.36,-1803.3"/>
</g>
<g id="node44" class="node">
<polygon fill="white" stroke="red" points="364.5,-574 364.5,-604 513.5,-604 513.5,-574 364.5,-574"/>
<text x="372.5 378.5 383.75 389.75 392.75 395.75 401.75 407 410.75 413.75 416.75 424.25 429.5 433.25 442.25 448.25 451.25 457.25 461 467 470 476 482.75 488.75 492.5 496.25 502.25" y="-592">ns3::dsr::DsrMaintainBuffer</text>
<text x="413.75 416.75 419.75 425.75 431.75 437.75 443.75 449.75 455.75" y="-581">::Enqueue</text>
</g>
<g id="edge54" class="edge">
<path fill="none" stroke="midnightblue" d="M237.77,-1170.86C246.94,-1112.09 284.06,-894.16 354,-728 372.18,-684.8 402.16,-639.11 420.96,-612.36"/>
<polygon fill="midnightblue" stroke="midnightblue" points="423.93,-614.23 426.87,-604.05 418.22,-610.17 423.93,-614.23"/>
</g>
<g id="node45" class="node">
<polygon fill="white" stroke="black" points="573.5,-677 573.5,-707 713.5,-707 713.5,-677 573.5,-677"/>
<text x="581.75 587.75 593 599 602 605 611 616.25 620 623 626 633.5 638.75 642.5 651.5 657.5 660.5 666.5 670.25 676.25 679.25 685.25 692 698 701.75" y="-695">ns3::dsr::DsrMaintainBuff</text>
<text x="605.75 611.75 617.75 621.5 625.25 630.5 633.5 636.5 644 650 653.75 660.5 665.75 671.75 674.75" y="-684">Entry::GetAckId</text>
</g>
<g id="edge64" class="edge">
<path fill="none" stroke="midnightblue" d="M292.38,-1194.06C301.43,-1196.92 310.32,-1200.78 318,-1206 340.95,-1221.6 329.37,-1244.24 354,-1257 421.08,-1291.76 468.17,-1307.91 524,-1257 588.31,-1198.35 537.1,-950.97 560,-867 575.53,-810.08 608.59,-748.88 627.81,-716.07"/>
<polygon fill="midnightblue" stroke="midnightblue" points="630.97,-717.6 633.07,-707.22 624.95,-714.03 630.97,-717.6"/>
</g>
<g id="node46" class="node">
<polygon fill="white" stroke="black" points="573.5,-432 573.5,-462 713.5,-462 713.5,-432 573.5,-432"/>
<text x="581.75 587.75 593 599 602 605 611 616.25 620 623 626 633.5 638.75 642.5 651.5 657.5 660.5 666.5 670.25 676.25 679.25 685.25 692 698 701.75" y="-450">ns3::dsr::DsrMaintainBuff</text>
<text x="611 617 623 626.75 630.5 635.75 638.75 641.75 649.25 655.25 659 666.5 671.75" y="-439">Entry::GetDst</text>
</g>
<g id="edge65" class="edge">
<path fill="none" stroke="midnightblue" d="M252.64,-1170.93C274.58,-1152.48 314.5,-1121.63 354,-1105 425.01,-1075.1 473.39,-1129.1 524,-1071 611.74,-970.29 476.65,-575.38 560,-471 561.51,-469.11 563.17,-467.36 564.93,-465.74"/>
<polygon fill="midnightblue" stroke="midnightblue" points="567.43,-468.24 573.36,-459.47 563.25,-462.63 567.43,-468.24"/>
</g>
<g id="node47" class="node">
<polygon fill="white" stroke="black" points="573.5,-481 573.5,-511 713.5,-511 713.5,-481 573.5,-481"/>
<text x="581.75 587.75 593 599 602 605 611 616.25 620 623 626 633.5 638.75 642.5 651.5 657.5 660.5 666.5 670.25 676.25 679.25 685.25 692 698 701.75" y="-499">ns3::dsr::DsrMaintainBuff</text>
<text x="598.25 604.25 610.25 614 617.75 623 626 629 636.5 642.5 646.25 653.75 659.75 665.75 669.5 677 683" y="-488">Entry::GetNextHop</text>
</g>
<g id="edge68" class="edge">
<path fill="none" stroke="midnightblue" d="M273.25,-1170.9C296.33,-1162.02 326.58,-1151 354,-1143 428.32,-1121.31 473.76,-1163.91 524,-1105 608.52,-1005.9 478.65,-621.72 560,-520 561.51,-518.11 563.17,-516.36 564.94,-514.74"/>
<polygon fill="midnightblue" stroke="midnightblue" points="567.43,-517.25 573.37,-508.47 563.26,-511.63 567.43,-517.25"/>
</g>
<g id="node48" class="node">
<polygon fill="white" stroke="black" points="573.5,-579 573.5,-609 713.5,-609 713.5,-579 573.5,-579"/>
<text x="581.75 587.75 593 599 602 605 611 616.25 620 623 626 633.5 638.75 642.5 651.5 657.5 660.5 666.5 670.25 676.25 679.25 685.25 692 698 701.75" y="-597">ns3::dsr::DsrMaintainBuff</text>
<text x="601.25 607.25 613.25 617 620.75 626 629 632 639.5 645.5 649.25 656.75 662.75 666.5 673.25 679.25" y="-586">Entry::GetOurAdd</text>
</g>
<g id="edge69" class="edge">
<path fill="none" stroke="midnightblue" d="M292.12,-1193.65C366.65,-1202.31 491.98,-1211.57 524,-1181 614.69,-1094.44 481.58,-715.81 560,-618 561.52,-616.11 563.17,-614.36 564.94,-612.75"/>
<polygon fill="midnightblue" stroke="midnightblue" points="567.44,-615.25 573.38,-606.48 563.27,-609.63 567.44,-615.25"/>
</g>
<g id="node49" class="node">
<polygon fill="white" stroke="black" points="573.5,-628 573.5,-658 713.5,-658 713.5,-628 573.5,-628"/>
<text x="581.75 587.75 593 599 602 605 611 616.25 620 623 626 633.5 638.75 642.5 651.5 657.5 660.5 666.5 670.25 676.25 679.25 685.25 692 698 701.75" y="-646">ns3::dsr::DsrMaintainBuff</text>
<text x="598.25 604.25 610.25 614 617.75 623 626 629 636.5 642.5 646.25 652.25 658.25 664.25 669.5 674.75 680.75 683.75" y="-635">Entry::GetSegsLeft</text>
</g>
<g id="edge70" class="edge">
<path fill="none" stroke="midnightblue" d="M292.08,-1198.85C300.8,-1201.08 309.67,-1203.5 318,-1206 334.29,-1210.9 337.24,-1216.07 354,-1219 428.42,-1232.03 468.86,-1270.66 524,-1219 613.71,-1134.95 483.05,-762.86 560,-667 561.52,-665.11 563.17,-663.36 564.95,-661.75"/>
<polygon fill="midnightblue" stroke="midnightblue" points="567.44,-664.26 573.39,-655.49 563.27,-658.63 567.44,-664.26"/>
</g>
<g id="node50" class="node">
<polygon fill="white" stroke="black" points="573.5,-530 573.5,-560 713.5,-560 713.5,-530 573.5,-530"/>
<text x="581.75 587.75 593 599 602 605 611 616.25 620 623 626 633.5 638.75 642.5 651.5 657.5 660.5 666.5 670.25 676.25 679.25 685.25 692 698 701.75" y="-548">ns3::dsr::DsrMaintainBuff</text>
<text x="611.75 617.75 623.75 627.5 631.25 636.5 639.5 642.5 650 656 659.75 665.75 669.5" y="-537">Entry::GetSrc</text>
</g>
<g id="edge71" class="edge">
<path fill="none" stroke="midnightblue" d="M292.28,-1181.35C371.84,-1174.27 508.57,-1159.81 524,-1143 610.44,-1048.86 480.12,-668.77 560,-569 561.52,-567.11 563.17,-565.36 564.94,-563.74"/>
<polygon fill="midnightblue" stroke="midnightblue" points="567.44,-566.25 573.38,-557.48 563.26,-560.63 567.44,-566.25"/>
</g>
<g id="node51" class="node">
<polygon fill="white" stroke="red" points="373.5,-1534 373.5,-1564 504.5,-1564 504.5,-1534 373.5,-1534"/>
<text x="381.5 387.5 392.75 398.75 401.75 404.75 410.75 416 419.75 422.75 425.75 433.25 438.5 442.25 448.25 454.25 460.25 466.25 473 479 482.75 486.5 492.5" y="-1552">ns3::dsr::DsrSendBuffer</text>
<text x="413.75 416.75 419.75 425.75 431.75 437.75 443.75 449.75 455.75" y="-1541">::Enqueue</text>
</g>
<g id="edge61" class="edge">
<path fill="none" stroke="midnightblue" d="M238.46,-1201.1C248.16,-1247.52 282.5,-1390.66 354,-1485 367.11,-1502.3 386.05,-1517.28 402.63,-1528.39"/>
<polygon fill="midnightblue" stroke="midnightblue" points="400.75,-1531.34 411.05,-1533.84 404.56,-1525.47 400.75,-1531.34"/>
</g>
<g id="node52" class="node">
<polygon fill="white" stroke="red" points="588,-1542.5 588,-1561.5 699,-1561.5 699,-1542.5 588,-1542.5"/>
<text x="596 602 607.25 613.25 616.25 619.25 624.5 630.5 635.75 641 647 650.75 653.75 656.75 664.25 670.25 674 681.5 684.5" y="-1549.5">ns3::Packet::GetUid</text>
</g>
<g id="edge72" class="edge">
<path fill="none" stroke="midnightblue" d="M237.76,-1201.31C247.84,-1267.33 291.01,-1526.41 354,-1573 390.3,-1599.85 517.91,-1578.62 590.67,-1563.61"/>
<polygon fill="midnightblue" stroke="midnightblue" points="591.49,-1567.02 600.56,-1561.54 590.06,-1560.17 591.49,-1567.02"/>
</g>
<g id="node53" class="node">
<polygon fill="white" stroke="red" points="381.5,-409.5 381.5,-428.5 496.5,-428.5 496.5,-409.5 381.5,-409.5"/>
<text x="389.75 395.75 401 407 410 413 419 422 431.75 437.75 440.75 446.75 450.5 456.5 460.25 463.25 466.25 473.75 479.75" y="-416.5">ns3::Simulator::Now</text>
</g>
<g id="edge74" class="edge">
<path fill="none" stroke="midnightblue" d="M238.26,-1170.94C248.97,-1112.39 288.62,-894.22 318,-714 335.21,-608.41 296.96,-566.51 354,-476 366.08,-456.83 387.22,-442.54 405.27,-433.06"/>
<polygon fill="midnightblue" stroke="midnightblue" points="406.96,-436.12 414.36,-428.54 403.85,-429.85 406.96,-436.12"/>
</g>
<g id="node54" class="node">
<polygon fill="white" stroke="red" points="366.5,-486 366.5,-516 511.5,-516 511.5,-486 366.5,-486"/>
<text x="374.75 380.75 386 392 395 398 404 409.25 413 416 419 426.5 431.75 435.5 442.25 448.25 454.25 458 461 467" y="-504">ns3::dsr::DsrRouting</text>
<text x="374.75 377.75 380.75 386.75 392 398 404 410 416 419 425 430.25 433.25 439.25 445.25 450.5 456.5 461.75 467 473 476.75 483.5 489.5 493.25 497" y="-493">::ScheduleLinkPacketRetry</text>
</g>
<g id="edge75" class="edge">
<path fill="none" stroke="midnightblue" d="M238.09,-1170.74C253.87,-1077.81 337.16,-590.99 354,-564 364.91,-546.51 382.57,-532.18 398.88,-521.63"/>
<polygon fill="midnightblue" stroke="midnightblue" points="401.08,-524.39 407.76,-516.17 397.41,-518.43 401.08,-524.39"/>
</g>
<g id="edge81" class="edge">
<path fill="none" stroke="midnightblue" d="M238.21,-1201.02C254.02,-1288.38 334.38,-1727.94 354,-1749 359.05,-1754.42 365.22,-1758.64 371.91,-1761.93"/>
<polygon fill="midnightblue" stroke="midnightblue" points="370.72,-1765.23 381.3,-1765.86 373.43,-1758.77 370.72,-1765.23"/>
</g>
<g id="edge82" class="edge">
<path fill="none" stroke="midnightblue" d="M242.22,-1170.71C257.31,-1138.2 297.06,-1061.94 354,-1022 358.16,-1019.08 362.67,-1016.51 367.37,-1014.26"/>
<polygon fill="midnightblue" stroke="midnightblue" points="368.79,-1017.46 376.6,-1010.29 366.03,-1011.03 368.79,-1017.46"/>
</g>
<g id="edge83" class="edge">
<path fill="none" stroke="midnightblue" d="M239.48,-1171C250.59,-1132.09 285.71,-1027.18 354,-973 358.13,-969.73 362.68,-966.9 367.47,-964.46"/>
<polygon fill="midnightblue" stroke="midnightblue" points="369.22,-967.51 376.92,-960.22 366.36,-961.12 369.22,-967.51"/>
</g>
<g id="edge84" class="edge">
<path fill="none" stroke="midnightblue" d="M237.81,-1170.94C245.47,-1126.19 274.27,-992.83 354,-924 358.16,-920.41 362.83,-917.35 367.78,-914.75"/>
<polygon fill="midnightblue" stroke="midnightblue" points="369.3,-917.9 376.93,-910.55 366.38,-911.54 369.3,-917.9"/>
</g>
<g id="edge85" class="edge">
<path fill="none" stroke="midnightblue" d="M237.97,-1201.05C253.98,-1298.33 342.63,-1834.42 354,-1847 354.76,-1847.84 355.55,-1848.66 356.37,-1849.45"/>
<polygon fill="midnightblue" stroke="midnightblue" points="354.33,-1852.3 364.32,-1855.8 358.7,-1846.83 354.33,-1852.3"/>
</g>
<g id="edge87" class="edge">
<path fill="none" stroke="midnightblue" d="M236.63,-1170.74C241.2,-1120.51 262.69,-958.8 354,-875 358.05,-871.28 362.64,-868.14 367.53,-865.47"/>
<polygon fill="midnightblue" stroke="midnightblue" points="369.06,-868.62 376.61,-861.19 366.08,-862.29 369.06,-868.62"/>
</g>
<g id="edge88" class="edge">
<path fill="none" stroke="midnightblue" d="M235.73,-1170.75C237.43,-1115.69 250.82,-925.17 354,-826 359.07,-821.13 365.06,-817.23 371.47,-814.12"/>
<polygon fill="midnightblue" stroke="midnightblue" points="373.22,-817.18 381.1,-810.1 370.52,-810.72 373.22,-817.18"/>
</g>
<g id="edge89" class="edge">
<path fill="none" stroke="midnightblue" d="M238.06,-1201.21C251.85,-1282.35 317.98,-1662.06 354,-1700 354.91,-1700.96 355.86,-1701.88 356.83,-1702.77"/>
<polygon fill="midnightblue" stroke="midnightblue" points="354.81,-1705.63 364.9,-1708.87 359.04,-1700.05 354.81,-1705.63"/>
</g>
<g id="edge90" class="edge">
<path fill="none" stroke="midnightblue" d="M238.46,-1201.2C253.42,-1277.47 321.3,-1615.99 354,-1650 355.27,-1651.32 356.6,-1652.57 358,-1653.76"/>
<polygon fill="midnightblue" stroke="midnightblue" points="356.36,-1656.89 366.53,-1659.86 360.43,-1651.19 356.36,-1656.89"/>
</g>
<g id="edge91" class="edge">
<path fill="none" stroke="midnightblue" d="M235.04,-1170.82C234.08,-1111.34 238.78,-891.79 354,-777 357.96,-773.05 362.53,-769.74 367.43,-766.97"/>
<polygon fill="midnightblue" stroke="midnightblue" points="369.11,-770.05 376.59,-762.54 366.06,-763.75 369.11,-770.05"/>
</g>
<g id="edge55" class="edge">
<path fill="none" stroke="midnightblue" d="M459.37,-604.07C482.3,-621.31 522.15,-649.4 560,-667 565,-669.33 570.28,-671.5 575.64,-673.52"/>
<polygon fill="midnightblue" stroke="midnightblue" points="574.76,-676.92 585.35,-676.99 577.11,-670.33 574.76,-676.92"/>
</g>
<g id="edge56" class="edge">
<path fill="none" stroke="midnightblue" d="M464.16,-573.77C481.95,-561.84 506.06,-544.11 524,-525 543.74,-503.97 536.74,-488.06 560,-471 562.05,-469.49 564.2,-468.08 566.41,-466.76"/>
<polygon fill="midnightblue" stroke="midnightblue" points="568.06,-469.85 575.27,-462.08 564.79,-463.66 568.06,-469.85"/>
</g>
<g id="edge57" class="edge">
<path fill="none" stroke="midnightblue" d="M462.6,-573.81C486.12,-558.54 524.4,-535.15 560,-520 564.68,-518.01 569.58,-516.12 574.56,-514.34"/>
<polygon fill="midnightblue" stroke="midnightblue" points="575.85,-517.6 584.19,-511.07 573.59,-510.97 575.85,-517.6"/>
</g>
<g id="edge58" class="edge">
<path fill="none" stroke="midnightblue" d="M513.68,-590.82C529.79,-591.22 546.9,-591.64 563.22,-592.04"/>
<polygon fill="midnightblue" stroke="midnightblue" points="563.17,-595.54 573.26,-592.29 563.35,-588.54 563.17,-595.54"/>
</g>
<g id="edge59" class="edge">
<path fill="none" stroke="midnightblue" d="M496.41,-604.04C521.21,-610.66 550.51,-618.47 576.33,-625.36"/>
<polygon fill="midnightblue" stroke="midnightblue" points="575.48,-628.75 586.04,-627.95 577.28,-621.99 575.48,-628.75"/>
</g>
<g id="edge60" class="edge">
<path fill="none" stroke="midnightblue" d="M509.12,-573.98C526.62,-570.18 545.55,-566.07 563.49,-562.17"/>
<polygon fill="midnightblue" stroke="midnightblue" points="564.32,-565.57 573.35,-560.03 562.83,-558.73 564.32,-565.57"/>
</g>
<g id="edge63" class="edge">
<path fill="none" stroke="midnightblue" d="M504.63,-1535.91C524.72,-1531.85 547.04,-1527.33 567.76,-1523.13"/>
<polygon fill="midnightblue" stroke="midnightblue" points="568.68,-1526.52 577.79,-1521.1 567.29,-1519.66 568.68,-1526.52"/>
</g>
<g id="edge62" class="edge">
<path fill="none" stroke="midnightblue" d="M504.63,-1549.96C528.02,-1550.3 554.43,-1550.7 577.82,-1551.04"/>
<polygon fill="midnightblue" stroke="midnightblue" points="577.94,-1554.54 587.99,-1551.19 578.05,-1547.54 577.94,-1554.54"/>
</g>
<g id="edge76" class="edge">
<path fill="none" stroke="midnightblue" d="M469.52,-516.12C487.89,-527.02 510.51,-543.41 524,-564 562.04,-622.07 536.7,-650.6 560,-716 580.46,-773.44 614.71,-837.1 631.93,-867.65"/>
<polygon fill="midnightblue" stroke="midnightblue" points="628.9,-869.4 636.88,-876.36 634.98,-865.94 628.9,-869.4"/>
</g>
<g id="edge77" class="edge">
<path fill="none" stroke="midnightblue" d="M496.41,-485.96C521.21,-479.34 550.51,-471.53 576.33,-464.64"/>
<polygon fill="midnightblue" stroke="midnightblue" points="577.28,-468.01 586.04,-462.05 575.48,-461.25 577.28,-468.01"/>
</g>
<g id="edge78" class="edge">
<path fill="none" stroke="midnightblue" d="M511.68,-499.23C528.26,-498.82 546,-498.38 562.9,-497.97"/>
<polygon fill="midnightblue" stroke="midnightblue" points="563.39,-501.45 573.3,-497.71 563.21,-494.46 563.39,-501.45"/>
</g>
<g id="edge79" class="edge">
<path fill="none" stroke="midnightblue" d="M494.21,-516.12C504.52,-520.15 514.92,-525.08 524,-531 543.49,-543.71 540.21,-556.77 560,-569 563.41,-571.11 567.01,-573.05 570.73,-574.83"/>
<polygon fill="midnightblue" stroke="midnightblue" points="569.58,-578.15 580.15,-578.96 572.39,-571.74 569.58,-578.15"/>
</g>
<g id="edge80" class="edge">
<path fill="none" stroke="midnightblue" d="M509.12,-516.02C526.62,-519.82 545.55,-523.93 563.49,-527.83"/>
<polygon fill="midnightblue" stroke="midnightblue" points="562.83,-531.27 573.35,-529.97 564.32,-524.43 562.83,-531.27"/>
</g>
<g id="edge86" class="edge">
<path fill="none" stroke="midnightblue" d="M514.25,-1886.03C529.44,-1889.11 545.5,-1892.36 560.92,-1895.48"/>
<polygon fill="midnightblue" stroke="midnightblue" points="560.46,-1898.96 570.95,-1897.51 561.85,-1892.1 560.46,-1898.96"/>
</g>
<g id="edge95" class="edge">
<path fill="none" stroke="midnightblue" d="M240.01,-705C266.11,-791.72 397.61,-1228.76 430.52,-1338.15"/>
<polygon fill="midnightblue" stroke="midnightblue" points="427.24,-1339.4 433.48,-1347.96 433.95,-1337.38 427.24,-1339.4"/>
</g>
<g id="edge96" class="edge">
<path fill="none" stroke="midnightblue" d="M238.69,-705.38C250.8,-764.2 294.38,-980.74 318,-1161 329.94,-1252.13 307.79,-1493.56 354,-1573 365.46,-1592.7 386.6,-1607.24 404.8,-1616.84"/>
<polygon fill="midnightblue" stroke="midnightblue" points="403.48,-1620.09 413.99,-1621.41 406.59,-1613.82 403.48,-1620.09"/>
</g>
<g id="edge97" class="edge">
<path fill="none" stroke="midnightblue" d="M300.7,-692.75C373.9,-696.85 487.26,-706.52 524,-728 580.6,-761.1 618.76,-832.9 634.45,-867.13"/>
<polygon fill="midnightblue" stroke="midnightblue" points="631.33,-868.74 638.59,-876.46 637.73,-865.9 631.33,-868.74"/>
</g>
<g id="edge99" class="edge">
<path fill="none" stroke="midnightblue" d="M300.25,-674.86C307.04,-670.99 313.2,-666.12 318,-660 409.33,-543.57 262.33,-445.17 354,-329 357.08,-325.1 360.7,-321.71 364.68,-318.76"/>
<polygon fill="midnightblue" stroke="midnightblue" points="366.73,-321.6 373.31,-313.3 362.99,-315.69 366.73,-321.6"/>
</g>
<g id="edge102" class="edge">
<path fill="none" stroke="midnightblue" d="M265.41,-674.96C283.84,-664.03 306.13,-647.4 318,-626 356.14,-557.24 303.51,-334.28 354,-274 354.62,-273.26 355.26,-272.55 355.91,-271.85"/>
<polygon fill="midnightblue" stroke="midnightblue" points="358.36,-274.37 363.65,-265.19 353.79,-269.06 358.36,-274.37"/>
</g>
<g id="edge103" class="edge">
<path fill="none" stroke="midnightblue" d="M265.91,-674.77C284.29,-663.85 306.35,-647.31 318,-626 360.92,-547.49 296.98,-293.95 354,-225 354.61,-224.26 355.25,-223.54 355.9,-222.84"/>
<polygon fill="midnightblue" stroke="midnightblue" points="358.35,-225.35 363.6,-216.15 353.76,-220.07 358.35,-225.35"/>
</g>
<g id="edge104" class="edge">
<path fill="none" stroke="midnightblue" d="M238.22,-705.03C248.78,-763.48 287.95,-981.28 318,-1161 326.39,-1211.16 320.48,-1348.76 354,-1387 358.96,-1392.66 365.15,-1397.07 371.9,-1400.5"/>
<polygon fill="midnightblue" stroke="midnightblue" points="370.82,-1403.84 381.39,-1404.59 373.59,-1397.42 370.82,-1403.84"/>
</g>
<g id="edge105" class="edge">
<path fill="none" stroke="midnightblue" d="M236.25,-705.12C239.66,-757.23 258.06,-931.06 354,-1022 355.66,-1023.57 357.41,-1025.05 359.25,-1026.43"/>
<polygon fill="midnightblue" stroke="midnightblue" points="357.43,-1029.42 367.73,-1031.92 361.23,-1023.55 357.43,-1029.42"/>
</g>
<g id="edge107" class="edge">
<path fill="none" stroke="midnightblue" d="M265.98,-674.81C284.39,-663.9 306.45,-647.37 318,-626 365.69,-537.74 290.44,-253.62 354,-176 354.61,-175.26 355.24,-174.53 355.89,-173.83"/>
<polygon fill="midnightblue" stroke="midnightblue" points="358.34,-176.34 363.56,-167.12 353.73,-171.07 358.34,-176.34"/>
</g>
<g id="edge109" class="edge">
<path fill="none" stroke="midnightblue" d="M266.04,-674.84C284.47,-663.95 306.54,-647.42 318,-626 370.47,-527.98 283.9,-213.29 354,-127 354.61,-126.25 355.23,-125.53 355.88,-124.83"/>
<polygon fill="midnightblue" stroke="midnightblue" points="358.34,-127.33 363.53,-118.09 353.71,-122.07 358.34,-127.33"/>
</g>
<g id="edge111" class="edge">
<path fill="none" stroke="midnightblue" d="M238.37,-705.01C249.49,-763.37 290.45,-980.88 318,-1161 327.32,-1221.92 314.02,-1389.09 354,-1436 357.02,-1439.55 360.53,-1442.61 364.35,-1445.24"/>
<polygon fill="midnightblue" stroke="midnightblue" points="362.77,-1448.37 373.18,-1450.35 366.28,-1442.31 362.77,-1448.37"/>
</g>
<g id="edge113" class="edge">
<path fill="none" stroke="midnightblue" d="M266.09,-674.86C284.53,-663.98 306.6,-647.45 318,-626 375.25,-518.22 277.35,-172.97 354,-78 354.6,-77.25 355.23,-76.52 355.88,-75.82"/>
<polygon fill="midnightblue" stroke="midnightblue" points="358.33,-78.32 363.51,-69.07 353.7,-73.08 358.33,-78.32"/>
</g>
<g id="edge114" class="edge">
<path fill="none" stroke="midnightblue" d="M266.13,-674.89C284.59,-664.01 306.66,-647.48 318,-626 380.04,-508.46 267.94,-130.29 354,-29 358.79,-23.36 364.87,-19.19 371.56,-16.13"/>
<polygon fill="midnightblue" stroke="midnightblue" points="372.85,-19.39 381,-12.62 370.41,-12.83 372.85,-19.39"/>
</g>
<g id="edge98" class="edge">
<path fill="none" stroke="midnightblue" d="M289.35,-674.86C299.32,-670.85 309.32,-665.93 318,-660 338.02,-646.32 333.94,-632.62 354,-619 360.08,-614.87 366.79,-611.24 373.68,-608.07"/>
<polygon fill="midnightblue" stroke="midnightblue" points="375.34,-611.17 383.17,-604.03 372.6,-604.73 375.34,-611.17"/>
</g>
<g id="edge100" class="edge">
<path fill="none" stroke="midnightblue" d="M300.89,-690.32C372.29,-690.67 486.63,-691.23 563.12,-691.61"/>
<polygon fill="midnightblue" stroke="midnightblue" points="563.17,-695.11 573.18,-691.66 563.2,-688.11 563.17,-695.11"/>
</g>
<g id="edge101" class="edge">
<path fill="none" stroke="midnightblue" d="M300.18,-674.81C306.98,-670.94 313.17,-666.09 318,-660 359.35,-607.94 304.24,-407.09 354,-363 410.55,-312.89 452.01,-340.07 524,-363 561.88,-375.06 598.04,-404.12 620.24,-424.67"/>
<polygon fill="midnightblue" stroke="midnightblue" points="618.1,-427.46 627.76,-431.81 622.92,-422.39 618.1,-427.46"/>
</g>
<g id="edge106" class="edge">
<path fill="none" stroke="midnightblue" d="M299.68,-674.95C306.66,-671.06 313.02,-666.16 318,-660 391.34,-569.28 266.04,-476.62 354,-400 410.97,-350.37 459.62,-360.46 524,-400 554.15,-418.52 532.89,-448.26 560,-471 562.01,-472.68 564.12,-474.25 566.33,-475.72"/>
<polygon fill="midnightblue" stroke="midnightblue" points="564.8,-478.88 575.21,-480.86 568.31,-472.82 564.8,-478.88"/>
</g>
<g id="edge108" class="edge">
<path fill="none" stroke="midnightblue" d="M296.36,-674.88C304.31,-670.99 311.83,-666.11 318,-660 350.38,-627.94 316.55,-589.96 354,-564 416.1,-520.96 449.02,-554.66 524,-564 544.09,-566.5 565.65,-571.3 584.81,-576.35"/>
<polygon fill="midnightblue" stroke="midnightblue" points="584.02,-579.76 594.59,-578.99 585.85,-573 584.02,-579.76"/>
</g>
<g id="edge110" class="edge">
<path fill="none" stroke="midnightblue" d="M300.89,-682.45C372.29,-674.2 486.63,-661 563.12,-652.17"/>
<polygon fill="midnightblue" stroke="midnightblue" points="563.65,-655.63 573.18,-651 562.85,-648.67 563.65,-655.63"/>
</g>
<g id="edge112" class="edge">
<path fill="none" stroke="midnightblue" d="M298.95,-674.9C306.14,-671.02 312.75,-666.14 318,-660 372.17,-596.68 289.67,-528.96 354,-476 412.33,-427.98 455.72,-443.64 524,-476 546.83,-486.82 539,-505.95 560,-520 562.95,-521.97 566.06,-523.8 569.28,-525.48"/>
<polygon fill="midnightblue" stroke="midnightblue" points="568.05,-528.77 578.58,-529.86 571.03,-522.43 568.05,-528.77"/>
</g>
<g id="edge115" class="edge">
<path fill="none" stroke="midnightblue" d="M299.52,-674.82C306.52,-670.95 312.94,-666.1 318,-660 380.47,-584.8 288.92,-515.95 354,-443 359,-437.4 365.2,-433.06 371.96,-429.72"/>
<polygon fill="midnightblue" stroke="midnightblue" points="373.59,-432.83 381.46,-425.74 370.89,-426.38 373.59,-432.83"/>
</g>
<g id="edge116" class="edge">
<path fill="none" stroke="midnightblue" d="M297.68,-674.93C305.25,-671.04 312.3,-666.15 318,-660 358.45,-616.33 313.43,-574.55 354,-531 357.38,-527.37 361.24,-524.17 365.39,-521.37"/>
<polygon fill="midnightblue" stroke="midnightblue" points="367.44,-524.22 374.28,-516.13 363.89,-518.19 367.44,-524.22"/>
</g>
<g id="edge117" class="edge">
<path fill="none" stroke="midnightblue" d="M237.31,-705.19C243.73,-752.3 269.79,-897.37 354,-973 358.1,-976.69 362.73,-979.83 367.65,-982.51"/>
<polygon fill="midnightblue" stroke="midnightblue" points="366.23,-985.71 376.76,-986.85 369.24,-979.39 366.23,-985.71"/>
</g>
<g id="edge118" class="edge">
<path fill="none" stroke="midnightblue" d="M238.77,-705.19C248.51,-746.76 281.29,-863.3 354,-924 358.06,-927.39 362.56,-930.32 367.31,-932.85"/>
<polygon fill="midnightblue" stroke="midnightblue" points="366.17,-936.18 376.71,-937.24 369.13,-929.83 366.17,-936.18"/>
</g>
<g id="edge119" class="edge">
<path fill="none" stroke="midnightblue" d="M240.88,-705.04C254.25,-740.27 292.44,-828.67 354,-875 358.15,-878.12 362.68,-880.86 367.43,-883.25"/>
<polygon fill="midnightblue" stroke="midnightblue" points="366.21,-886.54 376.77,-887.45 369.08,-880.16 366.21,-886.54"/>
</g>
<g id="edge120" class="edge">
<path fill="none" stroke="midnightblue" d="M244.53,-705.15C262.06,-733.23 303.43,-793.47 354,-826 358.29,-828.76 362.89,-831.22 367.66,-833.42"/>
<polygon fill="midnightblue" stroke="midnightblue" points="366.41,-836.69 376.98,-837.34 369.12,-830.24 366.41,-836.69"/>
</g>
<g id="edge121" class="edge">
<path fill="none" stroke="midnightblue" d="M252.32,-705.31C274.25,-724.53 314.46,-757.35 354,-777 359.63,-779.8 365.64,-782.35 371.75,-784.65"/>
<polygon fill="midnightblue" stroke="midnightblue" points="370.8,-788.03 381.39,-788.07 373.14,-781.43 370.8,-788.03"/>
</g>
<g id="edge122" class="edge">
<path fill="none" stroke="midnightblue" d="M283.75,-705.01C312.67,-714.01 349.63,-725.51 380.12,-734.99"/>
<polygon fill="midnightblue" stroke="midnightblue" points="379.18,-738.37 389.77,-738 381.26,-731.68 379.18,-738.37"/>
</g>
<g id="edge124" class="edge">
<path fill="none" stroke="midnightblue" d="M244.66,-586.96C262.32,-557.13 300.86,-487.81 318,-424 340.87,-338.88 295.91,-95.29 354,-29 358.7,-23.64 364.57,-19.61 371,-16.61"/>
<polygon fill="midnightblue" stroke="midnightblue" points="372.65,-19.73 380.76,-12.92 370.17,-13.18 372.65,-19.73"/>
</g>
<g id="edge125" class="edge">
<path fill="none" stroke="midnightblue" d="M292.24,-589.53C301.84,-585.28 310.96,-579.6 318,-572 358.45,-528.33 312.04,-485.22 354,-443 359.15,-437.82 365.32,-433.74 371.97,-430.53"/>
<polygon fill="midnightblue" stroke="midnightblue" points="373.37,-433.74 381.26,-426.67 370.68,-427.28 373.37,-433.74"/>
</g>
</g>
</svg>

</div>
</body>
</html>
